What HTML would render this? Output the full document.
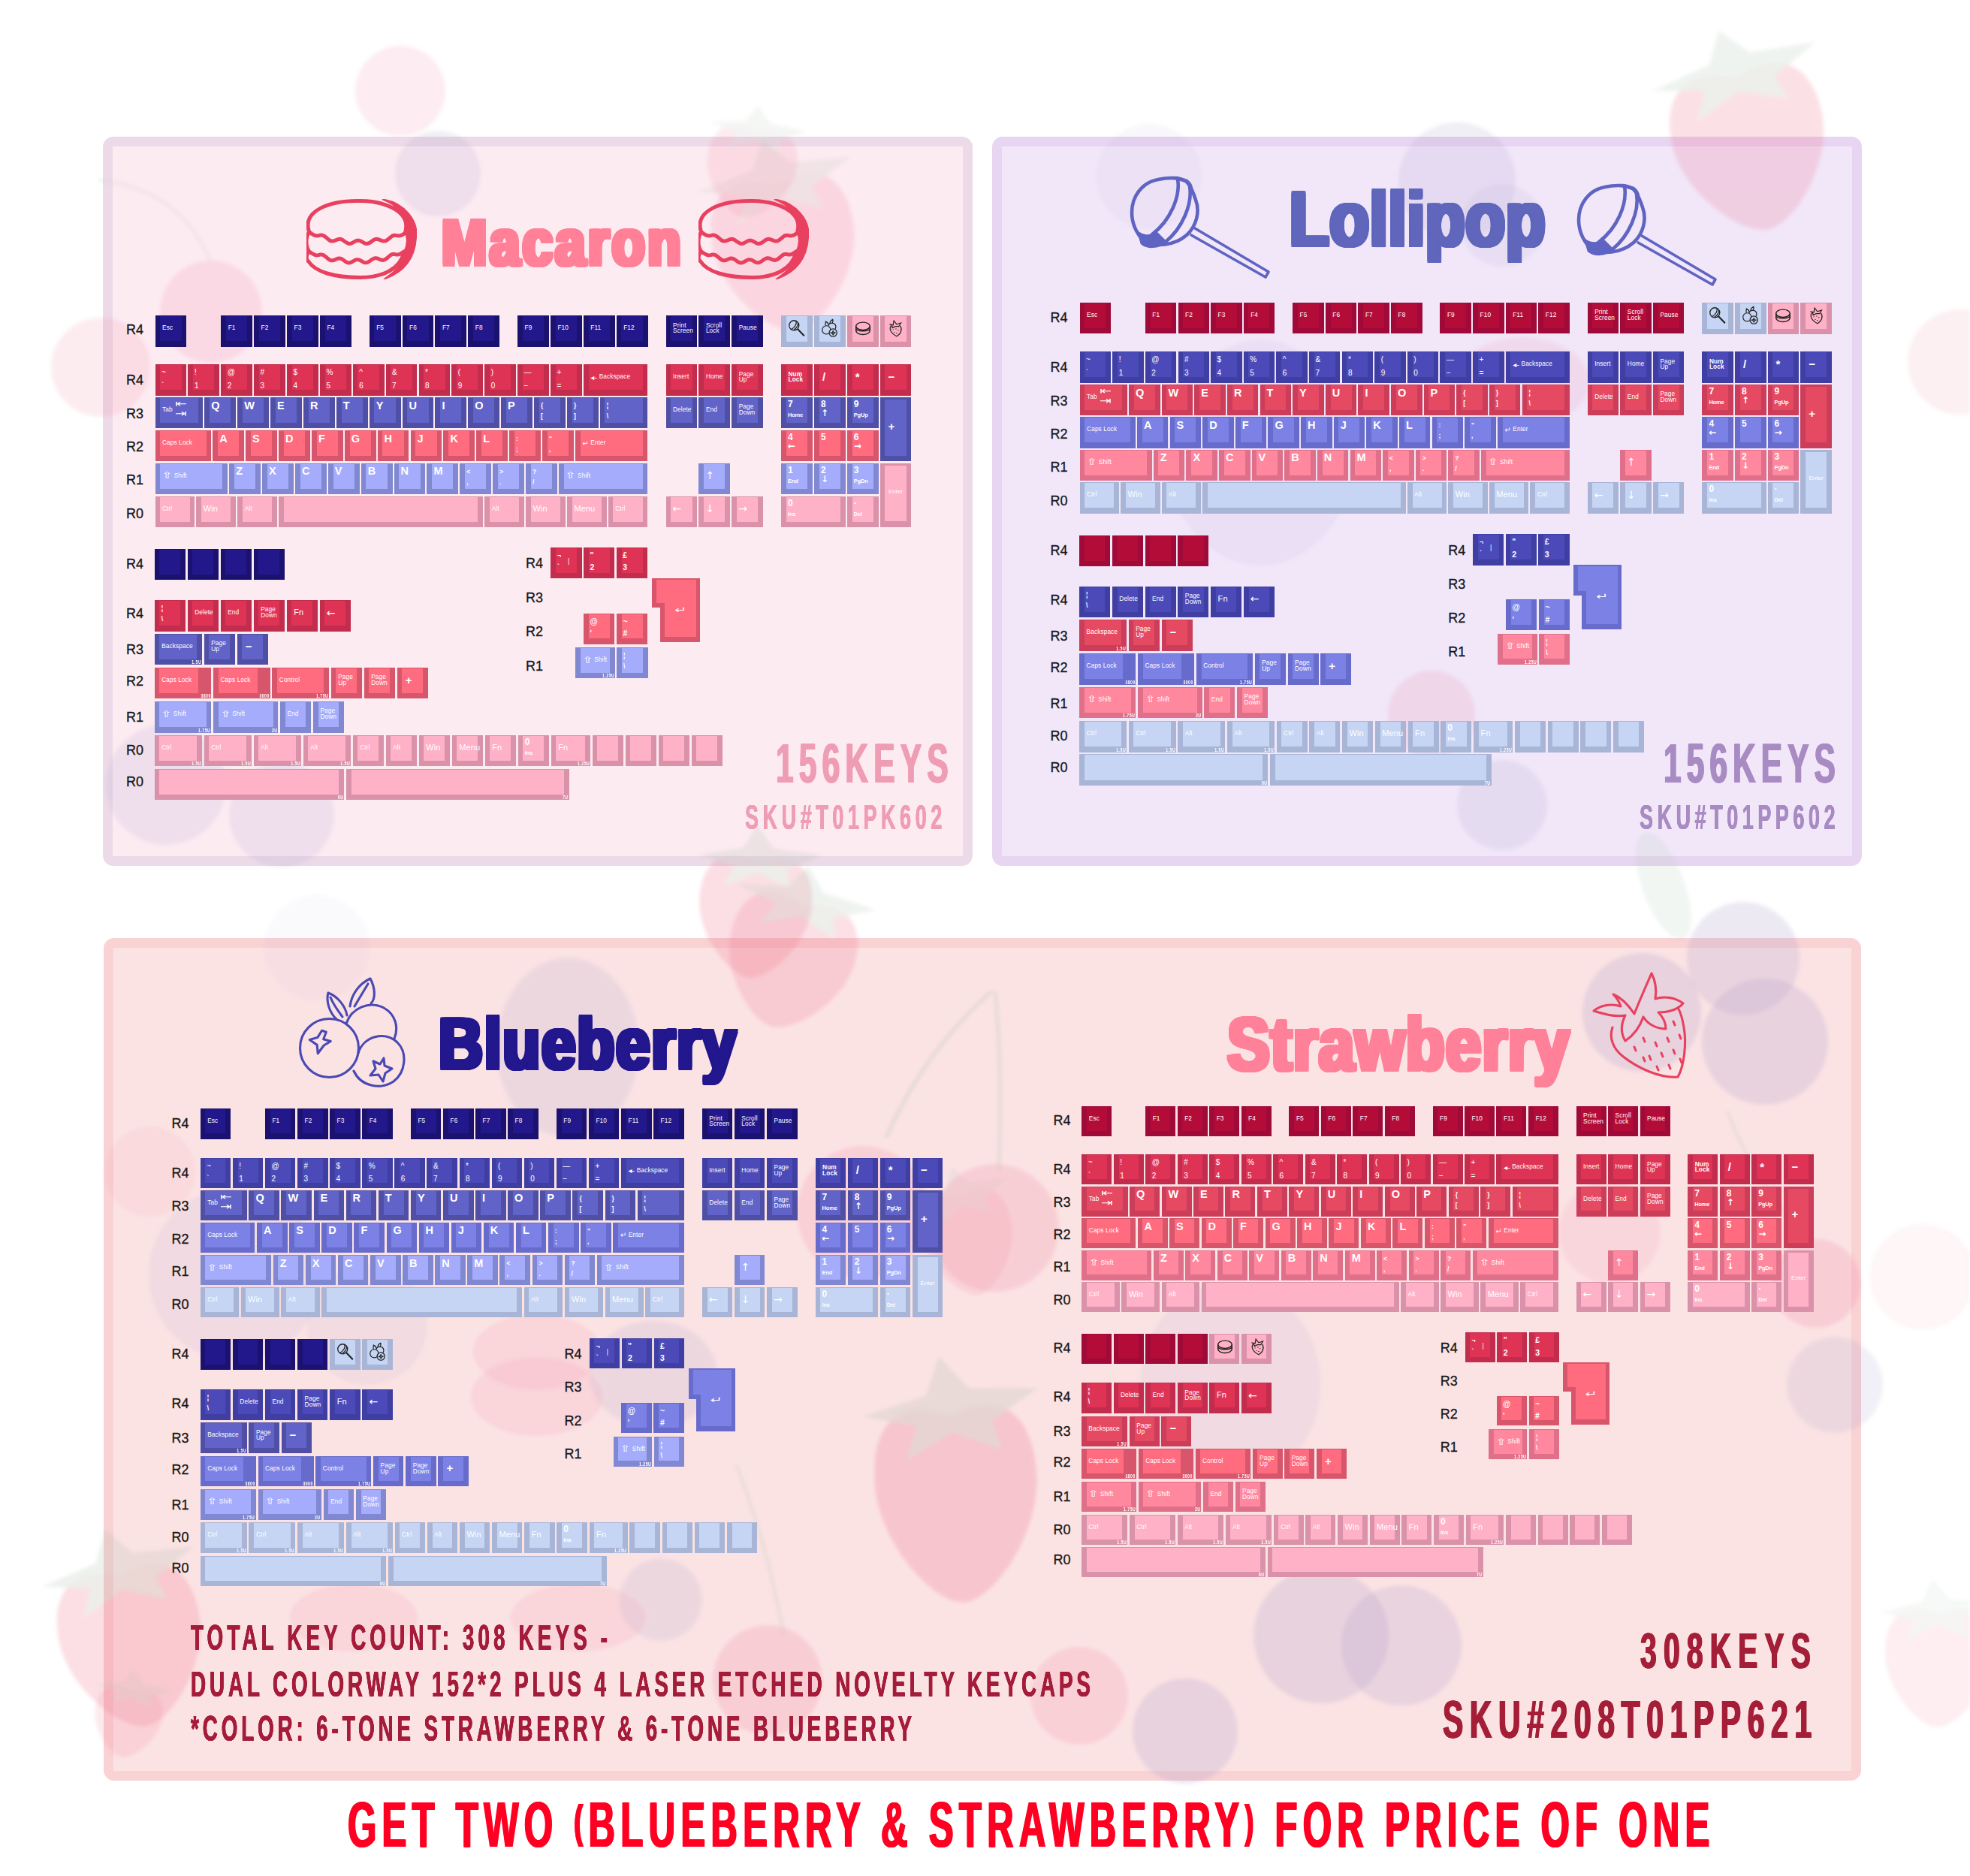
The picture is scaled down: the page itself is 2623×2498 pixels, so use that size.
<!DOCTYPE html><html><head><meta charset="utf-8"><title>Keycap sets</title><style>
html,body{margin:0;padding:0}
body{width:2623px;height:2498px;position:relative;overflow:hidden;background:#fff;font-family:"Liberation Sans","DejaVu Sans",sans-serif}
.pn{position:absolute;box-sizing:border-box;border:13.8px solid;border-radius:14px}
.k{position:absolute;background:var(--o);color:#fff;overflow:hidden}
.k>i{position:absolute;left:6.8px;right:6.8px;top:1px;bottom:7.3px;background:var(--i)}
.k.st>i{right:17px}
.k.tall>i{top:3px}
.kf{position:absolute;background:var(--i)}
.navy{--o:#1B1270;--i:#23178C}
.crim{--o:#9F0A38;--i:#B40C38}
.red{--o:#C22C4D;--i:#DF3355}
.red2{--o:#CB3D58;--i:#E64962}
.indigo{--o:#3F3FA3;--i:#4B4AB8}
.bp{--o:#4F50A5;--i:#6163C8}
.pr{--o:#D8566B;--i:#FF6B7F}
.peri{--o:#8088D2;--i:#A4ACFB}
.peri2{--o:#676BCB;--i:#7C81E5}
.pink{--o:#E0708A;--i:#FF889F}
.lpink{--o:#D992A9;--i:#FFB1C8}
.lblue{--o:#A8B5D6;--i:#C5D5F3}

.a{position:absolute;left:9px;top:3.5px;font:bold 14.5px/1 "Liberation Sans",sans-serif}
.n{position:absolute;left:8.5px;top:2px;font:10px/17.5px "Liberation Sans","DejaVu Sans",sans-serif;white-space:nowrap}
.sm .n{font-size:8.5px;line-height:14px;top:4px;left:9px;font-weight:bold}
.nbd .n{font-weight:bold;font-size:10.5px;line-height:16.5px;top:2px}
.i1 .n:after{content:"|";position:absolute;left:14px;top:7px;font-weight:normal}
.m{position:absolute;left:9.5px;top:0;height:34px;display:flex;align-items:center;font:8.3px/7.8px "Liberation Sans","DejaVu Sans",sans-serif;white-space:nowrap;letter-spacing:.1px}
.nb .m{font-weight:bold}
.m.w{font-size:11px}
.sy{font-family:"DejaVu Sans",sans-serif;font-size:10px;margin-right:2.5px;line-height:7px}
.sy.s2{font-size:12px;margin-right:3.5px;margin-left:2px;display:inline-block;transform:scaleX(1.5)}
.tb{position:absolute;left:26px;top:2px;font:13px/13px "DejaVu Sans",sans-serif;transform:scaleX(1.45);transform-origin:left top}
.p{position:absolute;left:9px;top:3px;font:bold 12px/13px "Liberation Sans","DejaVu Sans",sans-serif}
.p em{font-style:normal;font-size:7.5px;letter-spacing:-.2px}
.p em.pa{font:bold 12px/10px "DejaVu Sans",sans-serif;position:relative;top:-1px}
.c{position:absolute;left:11px;right:0;top:0;bottom:8px;display:flex;align-items:center;justify-content:flex-start;font:bold 15px/1 "Liberation Sans","DejaVu Sans",sans-serif}
.ar{position:absolute;left:9px;right:0;top:0;bottom:8px;display:flex;align-items:center;justify-content:flex-start;font:14px/1 "DejaVu Sans",sans-serif}
.ve{position:absolute;left:0;right:0;top:0;bottom:8px;display:flex;align-items:center;justify-content:center;font:8px/1 "Liberation Sans",sans-serif}
.ent{position:absolute;left:0;right:0;top:33px;text-align:center;font:13px/1 "DejaVu Sans",sans-serif;color:#fff;transform:scale(1.5,.9)}
.z{position:absolute;right:1px;bottom:0;font:bold 6.5px/7px "Liberation Sans",sans-serif;letter-spacing:.6px;transform:scaleX(.8);transform-origin:right bottom}
.ic{position:absolute;left:6.8px;top:1px;width:28px;height:33px}
.rl{position:absolute;color:#161616;line-height:1;white-space:nowrap;-webkit-text-stroke:.3px #161616}
.ct{position:absolute;white-space:nowrap;font-weight:bold;transform-origin:left top}
.ct .pr{font-size:.73em;position:relative;top:-.2em}
.tt{position:absolute;white-space:nowrap;font-weight:bold;line-height:normal;transform-origin:left top;paint-order:stroke fill}
.dc{position:absolute;border-radius:50%}
svg.ti{position:absolute;overflow:visible}
</style></head><body>
<div class=pn style="left:137px;top:181.6px;width:1158px;height:971px;border-color:#EDDAE8;background:#FDEBF2"></div>
<div class=pn style="left:1321px;top:181.6px;width:1157.5px;height:971px;border-color:#E8D5F1;background:#F1E7F9"></div>
<div class=pn style="left:138px;top:1249px;width:2339.5px;height:1122px;border-color:#F9D2D4;background:#FBE3E4"></div>
<svg style="position:absolute;left:0;top:0;opacity:.72;filter:blur(2.5px)" width="2623" height="2498" viewBox="0 0 2623 2498"><circle cx="533" cy="121" r="60" fill="#F08AA4" opacity="0.22"/><circle cx="583" cy="231" r="57" fill="#A294C6" opacity="0.22"/><circle cx="281" cy="415" r="68" fill="#EE7B98" opacity="0.22"/><circle cx="134" cy="489" r="66" fill="#EE7B98" opacity="0.20"/><path d="M281 350 Q240 250 130 240" fill="none" stroke="#B9C9B5" stroke-width="4" opacity="0.30"/><g opacity="0.22" transform="rotate(-8 1045 330)"><path d="M1045 244 C1102 222 1140 244 1140 312 C1140 375 1079 442 1045 442 C1011 442 950 375 950 312 C950 244 988 222 1045 244 Z" fill="#EE6A86"/><path d="M940 240 L1016 222 L1036 182 L1068 218 L1150 222 L1092 254 L1102 285 L1045 262 L988 290 L1003 254 Z" fill="#9DB8A0" opacity=".8"/></g><circle cx="221" cy="1045" r="80" fill="#A294C6" opacity="0.20"/><circle cx="375" cy="1085" r="70" fill="#A294C6" opacity="0.20"/><g opacity="0.30" transform="rotate(5 1005 1215)"><path d="M1005 1148 C1050 1131 1080 1148 1080 1201 C1080 1250 1032 1302 1005 1302 C978 1302 930 1250 930 1201 C930 1148 960 1131 1005 1148 Z" fill="#EE6A86"/><path d="M922 1145 L982 1131 L998 1100 L1023 1128 L1088 1131 L1042 1156 L1050 1180 L1005 1162 L960 1184 L972 1156 Z" fill="#9DB8A0" opacity=".8"/></g><g opacity="0.18" transform="rotate(10 1000 225)"><path d="M1000 176 C1036 163 1060 176 1060 215 C1060 251 1022 290 1000 290 C978 290 940 251 940 215 C940 176 964 163 1000 176 Z" fill="#EE6A86"/><path d="M934 173 L982 163 L994 139 L1014 160 L1066 163 L1030 181 L1036 199 L1000 186 L964 202 L974 181 Z" fill="#9DB8A0" opacity=".8"/></g><g opacity="0.28" transform="rotate(-12 2330 190)"><path d="M2330 101 C2392 77 2432 101 2432 171 C2432 237 2367 308 2330 308 C2293 308 2228 237 2228 171 C2228 101 2268 77 2330 101 Z" fill="#EE6A86"/><path d="M2217 96 L2299 77 L2320 35 L2355 72 L2443 77 L2381 110 L2392 143 L2330 120 L2268 148 L2285 110 Z" fill="#9DB8A0" opacity=".8"/></g><circle cx="1940" cy="241" r="78" fill="#A294C6" opacity="0.22"/><circle cx="2000" cy="300" r="55" fill="#A294C6" opacity="0.15"/><ellipse cx="1678" cy="603" rx="125" ry="150" fill="#A294C6" opacity="0.13" transform="rotate(0 1678 603)"/><ellipse cx="2027" cy="509" rx="90" ry="60" fill="#F08AA4" opacity="0.20" transform="rotate(0 2027 509)"/><circle cx="1906" cy="951" r="58" fill="#EE7B98" opacity="0.22"/><circle cx="2000" cy="1072" r="60" fill="#A294C6" opacity="0.20"/><circle cx="2610" cy="482" r="70" fill="#EE7B98" opacity="0.16"/><circle cx="1530" cy="235" r="70" fill="#A294C6" opacity="0.10"/><ellipse cx="2215" cy="1180" rx="28" ry="75" fill="#A9C9B0" opacity="0.22" transform="rotate(-20 2215 1180)"/><g opacity="0.28" transform="rotate(15 1052 1275)"><path d="M1052 1203 C1103 1184 1137 1203 1137 1260 C1137 1313 1083 1370 1052 1370 C1021 1370 967 1313 967 1260 C967 1203 1001 1184 1052 1203 Z" fill="#EE6A86"/><path d="M958 1199 L1026 1184 L1044 1150 L1072 1180 L1146 1184 L1094 1210 L1103 1237 L1052 1218 L1001 1241 L1015 1210 Z" fill="#9DB8A0" opacity=".8"/></g><g opacity="0.34" transform="rotate(-4 1274 1992)"><path d="M1274 1884 C1338 1856 1382 1884 1382 1969 C1382 2049 1313 2134 1274 2134 C1235 2134 1166 2049 1166 1969 C1166 1884 1210 1856 1274 1884 Z" fill="#EE6A86"/><path d="M1156 1878 L1242 1856 L1263 1805 L1300 1850 L1392 1856 L1328 1895 L1338 1935 L1274 1907 L1210 1941 L1227 1895 Z" fill="#9DB8A0" opacity=".8"/></g><g opacity="0.20" transform="rotate(-10 1290 1650)"><path d="M1290 1593 C1326 1578 1350 1593 1350 1638 C1350 1680 1312 1725 1290 1725 C1268 1725 1230 1680 1230 1638 C1230 1593 1254 1578 1290 1593 Z" fill="#EE6A86"/><path d="M1224 1590 L1272 1578 L1284 1551 L1304 1575 L1356 1578 L1320 1599 L1326 1620 L1290 1605 L1254 1623 L1264 1599 Z" fill="#9DB8A0" opacity=".8"/></g><circle cx="1149" cy="1614" r="88" fill="#EE7B98" opacity="0.26"/><circle cx="1022" cy="2237" r="73" fill="#EE7B98" opacity="0.28"/><path d="M1180 1515 Q1230 1400 1320 1320" fill="none" stroke="#B9C9B5" stroke-width="5" opacity="0.50"/><path d="M1044 2180 Q1020 2050 980 1950" fill="none" stroke="#B9C9B5" stroke-width="4" opacity="0.40"/><ellipse cx="756" cy="1395" rx="95" ry="120" fill="#A294C6" opacity="0.20" transform="rotate(0 756 1395)"/><ellipse cx="715" cy="1800" rx="85" ry="50" fill="#F08AA4" opacity="0.22" transform="rotate(0 715 1800)"/><ellipse cx="715" cy="1860" rx="88" ry="52" fill="#F08AA4" opacity="0.22" transform="rotate(0 715 1860)"/><ellipse cx="870" cy="1830" rx="85" ry="72" fill="#A294C6" opacity="0.20" transform="rotate(0 870 1830)"/><circle cx="313" cy="1697" r="115" fill="#A294C6" opacity="0.16"/><circle cx="489" cy="1764" r="80" fill="#A294C6" opacity="0.14"/><circle cx="422" cy="1262" r="70" fill="#A294C6" opacity="0.07"/><g opacity="0.30" transform="rotate(-10 175 2185)"><path d="M175 2098 C232 2075 270 2098 270 2167 C270 2231 209 2300 175 2300 C141 2300 80 2231 80 2167 C80 2098 118 2075 175 2098 Z" fill="#EE6A86"/><path d="M70 2093 L146 2075 L166 2033 L198 2070 L280 2075 L222 2107 L232 2139 L175 2116 L118 2144 L133 2107 Z" fill="#9DB8A0" opacity=".8"/></g><g opacity="0.20" transform="rotate(10 170 2290)"><path d="M170 2252 C197 2242 215 2252 215 2282 C215 2310 186 2340 170 2340 C154 2340 125 2310 125 2282 C125 2252 143 2242 170 2252 Z" fill="#EE6A86"/><path d="M120 2250 L156 2242 L166 2224 L181 2240 L220 2242 L192 2256 L197 2270 L170 2260 L143 2272 L150 2256 Z" fill="#9DB8A0" opacity=".8"/></g><ellipse cx="471" cy="2154" rx="85" ry="45" fill="#F08AA4" opacity="0.22" transform="rotate(0 471 2154)"/><ellipse cx="770" cy="2154" rx="90" ry="45" fill="#F08AA4" opacity="0.22" transform="rotate(0 770 2154)"/><circle cx="880" cy="2130" r="55" fill="#A294C6" opacity="0.20"/><circle cx="200" cy="1560" r="60" fill="#EE7B98" opacity="0.12"/><circle cx="2186" cy="1348" r="79" fill="#A294C6" opacity="0.30"/><circle cx="2321" cy="1276" r="75" fill="#A294C6" opacity="0.28"/><circle cx="2350" cy="1387" r="84" fill="#A294C6" opacity="0.30"/><circle cx="2418" cy="1709" r="59" fill="#EE7B98" opacity="0.28"/><circle cx="2143" cy="1641" r="68" fill="#EE7B98" opacity="0.17"/><circle cx="2443" cy="1844" r="64" fill="#A294C6" opacity="0.20"/><circle cx="1325" cy="1635" r="85" fill="#EE7B98" opacity="0.27"/><ellipse cx="1638" cy="1843" rx="120" ry="135" fill="#A294C6" opacity="0.16" transform="rotate(0 1638 1843)"/><circle cx="1759" cy="2178" r="90" fill="#A294C6" opacity="0.30"/><circle cx="1866" cy="2191" r="80" fill="#A294C6" opacity="0.28"/><circle cx="1437" cy="2258" r="65" fill="#EE7B98" opacity="0.25"/><circle cx="1578" cy="2305" r="70" fill="#A294C6" opacity="0.30"/><g opacity="0.16" transform="rotate(0 2580 2215)"><path d="M2580 2150 C2622 2133 2650 2150 2650 2201 C2650 2249 2605 2300 2580 2300 C2555 2300 2510 2249 2510 2201 C2510 2150 2538 2133 2580 2150 Z" fill="#EE6A86"/><path d="M2503 2147 L2559 2133 L2573 2103 L2597 2130 L2657 2133 L2615 2157 L2622 2181 L2580 2164 L2538 2184 L2549 2157 Z" fill="#9DB8A0" opacity=".8"/></g><path d="M2402 1650 Q2330 1560 2300 1480" fill="none" stroke="#B9C9B5" stroke-width="4" opacity="0.40"/><path d="M1330 1560 Q1335 1420 1325 1320" fill="none" stroke="#B9C9B5" stroke-width="5" opacity="0.45"/><circle cx="2560" cy="1700" r="70" fill="#EE7B98" opacity="0.10"/></svg>
<span class=rl style="left:168px;top:430.3px;font-size:18px">R4</span>
<span class=rl style="left:168px;top:497.3px;font-size:18px">R4</span>
<span class=rl style="left:168px;top:541.8px;font-size:18px">R3</span>
<span class=rl style="left:168px;top:586.3px;font-size:18px">R2</span>
<span class=rl style="left:168px;top:630.4px;font-size:18px">R1</span>
<span class=rl style="left:168px;top:675.2px;font-size:18px">R0</span>
<div class="k navy" style="left:206.5px;top:420.3px;width:41.9px;height:41.3px"><i></i><span class=m>Esc</span></div>
<div class="k navy" style="left:294.2px;top:420.3px;width:41.9px;height:41.3px"><i></i><span class=m>F1</span></div>
<div class="k navy" style="left:338.1px;top:420.3px;width:41.9px;height:41.3px"><i></i><span class=m>F2</span></div>
<div class="k navy" style="left:382px;top:420.3px;width:41.9px;height:41.3px"><i></i><span class=m>F3</span></div>
<div class="k navy" style="left:425.9px;top:420.3px;width:41.9px;height:41.3px"><i></i><span class=m>F4</span></div>
<div class="k navy" style="left:491.7px;top:420.3px;width:41.9px;height:41.3px"><i></i><span class=m>F5</span></div>
<div class="k navy" style="left:535.5px;top:420.3px;width:41.9px;height:41.3px"><i></i><span class=m>F6</span></div>
<div class="k navy" style="left:579.4px;top:420.3px;width:41.9px;height:41.3px"><i></i><span class=m>F7</span></div>
<div class="k navy" style="left:623.3px;top:420.3px;width:41.9px;height:41.3px"><i></i><span class=m>F8</span></div>
<div class="k navy" style="left:689.1px;top:420.3px;width:41.9px;height:41.3px"><i></i><span class=m>F9</span></div>
<div class="k navy" style="left:732.9px;top:420.3px;width:41.9px;height:41.3px"><i></i><span class=m>F10</span></div>
<div class="k navy" style="left:776.8px;top:420.3px;width:41.9px;height:41.3px"><i></i><span class=m>F11</span></div>
<div class="k navy" style="left:820.7px;top:420.3px;width:41.9px;height:41.3px"><i></i><span class=m>F12</span></div>
<div class="k navy" style="left:886.5px;top:420.3px;width:41.9px;height:41.3px"><i></i><span class=m>Print<br>Screen</span></div>
<div class="k navy" style="left:930.4px;top:420.3px;width:41.9px;height:41.3px"><i></i><span class=m>Scroll<br>Lock</span></div>
<div class="k navy" style="left:974.2px;top:420.3px;width:41.9px;height:41.3px"><i></i><span class=m>Pause</span></div>
<div class="k lblue" style="left:1040px;top:420.3px;width:41.9px;height:42.1px"><i></i><svg class=ic viewBox="0 0 30 30"><g fill="none" stroke="#222" stroke-width="1.4"><circle cx="11" cy="10.5" r="7"/><path d="M13.5 4c2 3.5-1 9-6 12M16.5 6.5c1 3.5-2 8-6 10.5"/><path d="M16 15.5l9.5 10" stroke-width="2.2"/></g></svg></div>
<div class="k lblue" style="left:1083.9px;top:420.3px;width:41.9px;height:42.1px"><i></i><svg class=ic viewBox="0 0 30 30"><g fill="none" stroke="#222" stroke-width="1.3"><circle cx="18" cy="12.5" r="5.5"/><circle cx="10" cy="17" r="6" fill="var(--i)"/><circle cx="19.5" cy="21" r="5.5" fill="var(--i)"/><path d="M9 11c-1-3 0-5 0-6 2 1 4 3 4 5M15 8c0-3 2-5 4-6 1 2 0 4-1 6"/><path d="M19.5 18.5l1 2 2 .5-2 1-1 2-1-2-2-1 2-.5z"/></g></svg></div>
<div class="k lpink" style="left:1127.8px;top:420.3px;width:41.9px;height:42.1px"><i></i><svg class=ic viewBox="0 0 30 30"><g fill="none" stroke="#222" stroke-width="1.5"><ellipse cx="15" cy="11.5" rx="10" ry="5.5"/><path d="M5 14.5c0 3 5 4 10 4s10-1 10-4M5 17.5c0 4 5 6 10 6s10-2 10-6M5 11.5v6M25 11.5v6"/></g></svg></div>
<div class="k lpink" style="left:1171.6px;top:420.3px;width:41.9px;height:42.1px"><i></i><svg class=ic viewBox="0 0 30 30"><g fill="none" stroke="#222" stroke-width="1.3"><path d="M9 11c-3 4-1 10 8 15 7-4 8-11 5-15"/><path d="M7 9l5 1 1-6 4 5 6-2-3 5-5 0-4 2-1-4z"/><path d="M12 16v1M16 15v1M19 17v1M14 20v1M17 21v1" stroke-width="1.6"/></g></svg></div>
<div class="k red" style="left:206.5px;top:485.3px;width:41.9px;height:41.3px"><i></i><span class=n>~<br>`</span></div>
<div class="k red" style="left:250.4px;top:485.3px;width:41.9px;height:41.3px"><i></i><span class=n>!<br>1</span></div>
<div class="k red" style="left:294.2px;top:485.3px;width:41.9px;height:41.3px"><i></i><span class=n>@<br>2</span></div>
<div class="k red" style="left:338.1px;top:485.3px;width:41.9px;height:41.3px"><i></i><span class=n>#<br>3</span></div>
<div class="k red" style="left:382px;top:485.3px;width:41.9px;height:41.3px"><i></i><span class=n>$<br>4</span></div>
<div class="k red" style="left:425.9px;top:485.3px;width:41.9px;height:41.3px"><i></i><span class=n>%<br>5</span></div>
<div class="k red" style="left:469.7px;top:485.3px;width:41.9px;height:41.3px"><i></i><span class=n>^<br>6</span></div>
<div class="k red" style="left:513.6px;top:485.3px;width:41.9px;height:41.3px"><i></i><span class=n>&amp;<br>7</span></div>
<div class="k red" style="left:557.5px;top:485.3px;width:41.9px;height:41.3px"><i></i><span class=n>*<br>8</span></div>
<div class="k red" style="left:601.3px;top:485.3px;width:41.9px;height:41.3px"><i></i><span class=n>(<br>9</span></div>
<div class="k red" style="left:645.2px;top:485.3px;width:41.9px;height:41.3px"><i></i><span class=n>)<br>0</span></div>
<div class="k red" style="left:689.1px;top:485.3px;width:41.9px;height:41.3px"><i></i><span class=n>—<br>−</span></div>
<div class="k red" style="left:732.9px;top:485.3px;width:41.9px;height:41.3px"><i></i><span class=n>+<br>=</span></div>
<div class="k red" style="left:776.8px;top:485.3px;width:85.7px;height:41.3px"><i></i><span class=m><span class=sy>&#9666;-</span> Backspace</span></div>
<div class="k red" style="left:886.5px;top:485.3px;width:41.9px;height:41.3px"><i></i><span class=m>Insert</span></div>
<div class="k red" style="left:930.4px;top:485.3px;width:41.9px;height:41.3px"><i></i><span class=m>Home</span></div>
<div class="k red" style="left:974.2px;top:485.3px;width:41.9px;height:41.3px"><i></i><span class=m>Page<br>Up</span></div>
<div class="k red nb" style="left:1040px;top:485.3px;width:41.9px;height:41.3px"><i></i><span class=m>Num<br>Lock</span></div>
<div class="k red lc" style="left:1083.9px;top:485.3px;width:41.9px;height:41.3px"><i></i><b class=c>/</b></div>
<div class="k red lc" style="left:1127.8px;top:485.3px;width:41.9px;height:41.3px"><i></i><b class=c>*</b></div>
<div class="k red lc" style="left:1171.6px;top:485.3px;width:41.9px;height:41.3px"><i></i><b class=c>−</b></div>
<div class="k bp" style="left:206.5px;top:529.1px;width:63.8px;height:41.3px"><i></i><span class=m>Tab</span><span class=tb>&#8676;<br>&#8677;</span></div>
<div class="k bp" style="left:272.3px;top:529.1px;width:41.9px;height:41.3px"><i></i><b class=a>Q</b></div>
<div class="k bp" style="left:316.2px;top:529.1px;width:41.9px;height:41.3px"><i></i><b class=a>W</b></div>
<div class="k bp" style="left:360px;top:529.1px;width:41.9px;height:41.3px"><i></i><b class=a>E</b></div>
<div class="k bp" style="left:403.9px;top:529.1px;width:41.9px;height:41.3px"><i></i><b class=a>R</b></div>
<div class="k bp" style="left:447.8px;top:529.1px;width:41.9px;height:41.3px"><i></i><b class=a>T</b></div>
<div class="k bp" style="left:491.7px;top:529.1px;width:41.9px;height:41.3px"><i></i><b class=a>Y</b></div>
<div class="k bp" style="left:535.5px;top:529.1px;width:41.9px;height:41.3px"><i></i><b class=a>U</b></div>
<div class="k bp" style="left:579.4px;top:529.1px;width:41.9px;height:41.3px"><i></i><b class=a>I</b></div>
<div class="k bp" style="left:623.3px;top:529.1px;width:41.9px;height:41.3px"><i></i><b class=a>O</b></div>
<div class="k bp" style="left:667.1px;top:529.1px;width:41.9px;height:41.3px"><i></i><b class=a>P</b></div>
<div class="k bp sm" style="left:711px;top:529.1px;width:41.9px;height:41.3px"><i></i><span class=n>{<br>[</span></div>
<div class="k bp sm" style="left:754.9px;top:529.1px;width:41.9px;height:41.3px"><i></i><span class=n>}<br>]</span></div>
<div class="k bp sm" style="left:798.7px;top:529.1px;width:63.8px;height:41.3px"><i></i><span class=n>¦<br>\</span></div>
<div class="k bp" style="left:886.5px;top:529.1px;width:41.9px;height:41.3px"><i></i><span class=m>Delete</span></div>
<div class="k bp" style="left:930.4px;top:529.1px;width:41.9px;height:41.3px"><i></i><span class=m>End</span></div>
<div class="k bp" style="left:974.2px;top:529.1px;width:41.9px;height:41.3px"><i></i><span class=m>Page<br>Down</span></div>
<div class="k bp" style="left:1040px;top:529.1px;width:41.9px;height:41.3px"><i></i><b class=p>7<br><em>Home</em></b></div>
<div class="k bp" style="left:1083.9px;top:529.1px;width:41.9px;height:41.3px"><i></i><b class=p>8<br><em class=pa>↑</em></b></div>
<div class="k bp" style="left:1127.8px;top:529.1px;width:41.9px;height:41.3px"><i></i><b class=p>9<br><em>PgUp</em></b></div>
<div class="k bp tall" style="left:1171.6px;top:529.1px;width:41.9px;height:85.2px"><i></i><b class=c>+</b></div>
<div class="k pr" style="left:206.5px;top:573px;width:74.8px;height:41.3px"><i></i><span class=m>Caps Lock</span></div>
<div class="k pr" style="left:283.3px;top:573px;width:41.9px;height:41.3px"><i></i><b class=a>A</b></div>
<div class="k pr" style="left:327.1px;top:573px;width:41.9px;height:41.3px"><i></i><b class=a>S</b></div>
<div class="k pr" style="left:371px;top:573px;width:41.9px;height:41.3px"><i></i><b class=a>D</b></div>
<div class="k pr" style="left:414.9px;top:573px;width:41.9px;height:41.3px"><i></i><b class=a>F</b></div>
<div class="k pr" style="left:458.8px;top:573px;width:41.9px;height:41.3px"><i></i><b class=a>G</b></div>
<div class="k pr" style="left:502.6px;top:573px;width:41.9px;height:41.3px"><i></i><b class=a>H</b></div>
<div class="k pr" style="left:546.5px;top:573px;width:41.9px;height:41.3px"><i></i><b class=a>J</b></div>
<div class="k pr" style="left:590.4px;top:573px;width:41.9px;height:41.3px"><i></i><b class=a>K</b></div>
<div class="k pr" style="left:634.2px;top:573px;width:41.9px;height:41.3px"><i></i><b class=a>L</b></div>
<div class="k pr sm" style="left:678.1px;top:573px;width:41.9px;height:41.3px"><i></i><span class=n>:<br>;</span></div>
<div class="k pr sm" style="left:722px;top:573px;width:41.9px;height:41.3px"><i></i><span class=n>"<br>,</span></div>
<div class="k pr" style="left:765.8px;top:573px;width:96.7px;height:41.3px"><i></i><span class=m><span class=sy>&#8629;</span> Enter</span></div>
<div class="k pr" style="left:1040px;top:573px;width:41.9px;height:41.3px"><i></i><b class=p>4<br><em class=pa>←</em></b></div>
<div class="k pr" style="left:1083.9px;top:573px;width:41.9px;height:41.3px"><i></i><b class=p>5<br><em></em></b></div>
<div class="k pr" style="left:1127.8px;top:573px;width:41.9px;height:41.3px"><i></i><b class=p>6<br><em class=pa>→</em></b></div>
<div class="k peri" style="left:206.5px;top:616.7px;width:96.7px;height:41.3px"><i></i><span class=m><span class="sy s2">&#8679;</span> Shift</span></div>
<div class="k peri" style="left:305.2px;top:616.7px;width:41.9px;height:41.3px"><i></i><b class=a>Z</b></div>
<div class="k peri" style="left:349.1px;top:616.7px;width:41.9px;height:41.3px"><i></i><b class=a>X</b></div>
<div class="k peri" style="left:392.9px;top:616.7px;width:41.9px;height:41.3px"><i></i><b class=a>C</b></div>
<div class="k peri" style="left:436.8px;top:616.7px;width:41.9px;height:41.3px"><i></i><b class=a>V</b></div>
<div class="k peri" style="left:480.7px;top:616.7px;width:41.9px;height:41.3px"><i></i><b class=a>B</b></div>
<div class="k peri" style="left:524.6px;top:616.7px;width:41.9px;height:41.3px"><i></i><b class=a>N</b></div>
<div class="k peri" style="left:568.4px;top:616.7px;width:41.9px;height:41.3px"><i></i><b class=a>M</b></div>
<div class="k peri sm" style="left:612.3px;top:616.7px;width:41.9px;height:41.3px"><i></i><span class=n>&lt;<br>,</span></div>
<div class="k peri sm" style="left:656.2px;top:616.7px;width:41.9px;height:41.3px"><i></i><span class=n>&gt;<br>.</span></div>
<div class="k peri sm" style="left:700px;top:616.7px;width:41.9px;height:41.3px"><i></i><span class=n>?<br>/</span></div>
<div class="k peri" style="left:743.9px;top:616.7px;width:118.6px;height:41.3px"><i></i><span class=m><span class="sy s2">&#8679;</span> Shift</span></div>
<div class="k peri" style="left:930.4px;top:616.7px;width:41.9px;height:41.3px"><i></i><b class=ar>↑</b></div>
<div class="k peri" style="left:1040px;top:616.7px;width:41.9px;height:41.3px"><i></i><b class=p>1<br><em>End</em></b></div>
<div class="k peri" style="left:1083.9px;top:616.7px;width:41.9px;height:41.3px"><i></i><b class=p>2<br><em class=pa>↓</em></b></div>
<div class="k peri" style="left:1127.8px;top:616.7px;width:41.9px;height:41.3px"><i></i><b class=p>3<br><em>PgDn</em></b></div>
<div class="k lpink tall" style="left:1171.6px;top:616.7px;width:41.9px;height:85.1px"><i></i><span class=ve>Enter</span></div>
<div class="k lpink" style="left:206.5px;top:660.5px;width:52.8px;height:41.3px"><i></i><span class=m>Ctrl</span></div>
<div class="k lpink" style="left:261.3px;top:660.5px;width:52.8px;height:41.3px"><i></i><span class="m w">Win</span></div>
<div class="k lpink" style="left:316.2px;top:660.5px;width:52.8px;height:41.3px"><i></i><span class=m>Alt</span></div>
<div class="k lpink" style="left:371px;top:660.5px;width:272.2px;height:41.3px"><i></i></div>
<div class="k lpink" style="left:645.2px;top:660.5px;width:52.8px;height:41.3px"><i></i><span class=m>Alt</span></div>
<div class="k lpink" style="left:700px;top:660.5px;width:52.8px;height:41.3px"><i></i><span class="m w">Win</span></div>
<div class="k lpink" style="left:754.9px;top:660.5px;width:52.8px;height:41.3px"><i></i><span class="m w">Menu</span></div>
<div class="k lpink" style="left:809.7px;top:660.5px;width:52.8px;height:41.3px"><i></i><span class=m>Ctrl</span></div>
<div class="k lpink" style="left:886.5px;top:660.5px;width:41.9px;height:41.3px"><i></i><b class=ar>←</b></div>
<div class="k lpink" style="left:930.4px;top:660.5px;width:41.9px;height:41.3px"><i></i><b class=ar>↓</b></div>
<div class="k lpink" style="left:974.2px;top:660.5px;width:41.9px;height:41.3px"><i></i><b class=ar>→</b></div>
<div class="k lpink" style="left:1040px;top:660.5px;width:85.7px;height:41.3px"><i></i><b class=p>0<br><em>Ins</em></b></div>
<div class="k lpink" style="left:1127.8px;top:660.5px;width:41.9px;height:41.3px"><i></i><b class=p>·<br><em>Del</em></b></div>
<span class=rl style="left:168px;top:741.5px;font-size:18px">R4</span>
<span class=rl style="left:168px;top:808.3px;font-size:18px">R4</span>
<span class=rl style="left:168px;top:855.9px;font-size:18px">R3</span>
<span class=rl style="left:168px;top:898.3px;font-size:18px">R2</span>
<span class=rl style="left:168px;top:945.9px;font-size:18px">R1</span>
<span class=rl style="left:168px;top:990.4px;font-size:18px">R0</span>
<span class=rl style="left:168px;top:1032.3px;font-size:18px">R0</span>
<div class="k navy" style="left:205.7px;top:730.6px;width:41.4px;height:41.5px"><i></i></div>
<div class="k navy" style="left:249.7px;top:730.6px;width:41.4px;height:41.5px"><i></i></div>
<div class="k navy" style="left:293.7px;top:730.6px;width:41.4px;height:41.5px"><i></i></div>
<div class="k navy" style="left:337.7px;top:730.6px;width:41.4px;height:41.5px"><i></i></div>
<div class="k red sm" style="left:205.7px;top:799.1px;width:41.4px;height:41.5px"><i></i><span class=n>¦<br>\</span></div>
<div class="k red" style="left:249.7px;top:799.1px;width:41.4px;height:41.5px"><i></i><span class=m>Delete</span></div>
<div class="k red" style="left:293.7px;top:799.1px;width:41.4px;height:41.5px"><i></i><span class=m>End</span></div>
<div class="k red" style="left:337.7px;top:799.1px;width:41.4px;height:41.5px"><i></i><span class=m>Page<br>Down</span></div>
<div class="k red" style="left:381.7px;top:799.1px;width:41.4px;height:41.5px"><i></i><span class="m w">Fn</span></div>
<div class="k red" style="left:425.7px;top:799.1px;width:41.4px;height:41.5px"><i></i><b class=ar>←</b></div>
<div class="k bp" style="left:205.7px;top:843.6px;width:63.4px;height:41.5px"><i></i><span class=m>Backspace</span><span class=z>1.5U</span></div>
<div class="k bp" style="left:271.7px;top:843.6px;width:41.4px;height:41.5px"><i></i><span class=m>Page<br>Up</span></div>
<div class="k bp lc" style="left:315.7px;top:843.6px;width:41.4px;height:41.5px"><i></i><b class=c>−</b></div>
<div class="k pr st" style="left:205.7px;top:888.6px;width:75.7px;height:41.5px"><i></i><span class=m>Caps Lock</span><span class=z>3800</span></div>
<div class="k pr st" style="left:284px;top:888.6px;width:75.7px;height:41.5px"><i></i><span class=m>Caps Lock</span><span class=z>3000</span></div>
<div class="k pr" style="left:362.3px;top:888.6px;width:75.7px;height:41.5px"><i></i><span class=m>Control</span><span class=z>1.75U</span></div>
<div class="k pr" style="left:440.7px;top:888.6px;width:41.4px;height:41.5px"><i></i><span class=m>Page<br>Up</span></div>
<div class="k pr" style="left:484.7px;top:888.6px;width:41.4px;height:41.5px"><i></i><span class=m>Page<br>Down</span></div>
<div class="k pr lc" style="left:528.7px;top:888.6px;width:41.4px;height:41.5px"><i></i><b class=c>+</b></div>
<div class="k peri" style="left:205.7px;top:934px;width:75.7px;height:41.5px"><i></i><span class=m><span class="sy s2">&#8679;</span> Shift</span><span class=z>1.75U</span></div>
<div class="k peri" style="left:284px;top:934px;width:86.3px;height:41.5px"><i></i><span class=m><span class="sy s2">&#8679;</span> Shift</span><span class=z>2U</span></div>
<div class="k peri" style="left:372.9px;top:934px;width:41.4px;height:41.5px"><i></i><span class=m>End</span></div>
<div class="k peri" style="left:416.9px;top:934px;width:41.4px;height:41.5px"><i></i><span class=m>Page<br>Down</span></div>
<div class="k lpink" style="left:205.7px;top:978.5px;width:63.4px;height:41.5px"><i></i><span class=m>Ctrl</span><span class=z>1.5U</span></div>
<div class="k lpink" style="left:271.7px;top:978.5px;width:63.4px;height:41.5px"><i></i><span class=m>Ctrl</span><span class=z>1.5U</span></div>
<div class="k lpink" style="left:337.7px;top:978.5px;width:63.4px;height:41.5px"><i></i><span class=m>Alt</span><span class=z>1.5U</span></div>
<div class="k lpink" style="left:403.7px;top:978.5px;width:63.4px;height:41.5px"><i></i><span class=m>Alt</span><span class=z>1.5U</span></div>
<div class="k lpink" style="left:469.7px;top:978.5px;width:41.4px;height:41.5px"><i></i><span class=m>Ctrl</span></div>
<div class="k lpink" style="left:513.7px;top:978.5px;width:41.4px;height:41.5px"><i></i><span class=m>Alt</span></div>
<div class="k lpink" style="left:557.7px;top:978.5px;width:41.4px;height:41.5px"><i></i><span class="m w">Win</span></div>
<div class="k lpink" style="left:601.7px;top:978.5px;width:41.4px;height:41.5px"><i></i><span class="m w">Menu</span></div>
<div class="k lpink" style="left:645.7px;top:978.5px;width:41.4px;height:41.5px"><i></i><span class="m w">Fn</span></div>
<div class="k lpink" style="left:689.7px;top:978.5px;width:41.4px;height:41.5px"><i></i><b class=p>0<br><em>Ins</em></b></div>
<div class="k lpink" style="left:733.7px;top:978.5px;width:52.4px;height:41.5px"><i></i><span class="m w">Fn</span><span class=z>1.25U</span></div>
<div class="k lpink" style="left:788.7px;top:978.5px;width:41.4px;height:41.5px"><i></i></div>
<div class="k lpink" style="left:832.7px;top:978.5px;width:41.4px;height:41.5px"><i></i></div>
<div class="k lpink" style="left:876.7px;top:978.5px;width:41.4px;height:41.5px"><i></i></div>
<div class="k lpink" style="left:920.7px;top:978.5px;width:41.4px;height:41.5px"><i></i></div>
<div class="k lpink" style="left:205.7px;top:1023.5px;width:252.6px;height:41.5px"><i></i><span class=z>6U</span></div>
<div class="k lpink" style="left:461.2px;top:1023.5px;width:296.6px;height:41.5px"><i></i><span class=z>7U</span></div>
<div class="k red sm i1" style="left:733px;top:728.8px;width:41.6px;height:41.5px"><i></i><span class=n>¬<br>`</span></div>
<div class="k red nbd" style="left:776.9px;top:728.8px;width:41.6px;height:41.5px"><i></i><span class=n>"<br>2</span></div>
<div class="k red nbd" style="left:820.8px;top:728.8px;width:41.6px;height:41.5px"><i></i><span class=n>£<br>3</span></div>
<div class="k pr" style="left:868.3px;top:769.9px;width:64.1px;height:39.3px"></div>
<div class="k pr" style="left:879.3px;top:769.9px;width:53.1px;height:85.5px"></div>
<div class="kf pr" style="left:874.3px;top:771.9px;width:53.1px;height:31.3px"></div>
<div class="kf pr" style="left:885.3px;top:771.9px;width:42.1px;height:76.5px"><b class=ent>&#8629;</b></div>
<div class="k pr nbd" style="left:777px;top:816.6px;width:41.4px;height:41px"><i></i><span class=n>@<br>'</span></div>
<div class="k pr nbd" style="left:821.1px;top:816.6px;width:41.4px;height:41px"><i></i><span class=n>~<br>#</span></div>
<div class="k peri" style="left:766px;top:862px;width:53px;height:41px"><i></i><span class=m><span class="sy s2">&#8679;</span> Shift</span><span class=z>1.25U</span></div>
<div class="k peri sm" style="left:821px;top:862px;width:41.5px;height:41px"><i></i><span class=n>¦<br>\</span></div>
<span class=rl style="left:700px;top:741.3px;font-size:18px">R4</span>
<span class=rl style="left:700px;top:786.9px;font-size:18px">R3</span>
<span class=rl style="left:700px;top:832.3px;font-size:18px">R2</span>
<span class=rl style="left:700px;top:877.8px;font-size:18px">R1</span>
<span class=rl style="left:1398.5px;top:413.5px;font-size:18px">R4</span>
<span class=rl style="left:1398.5px;top:479.9px;font-size:18px">R4</span>
<span class=rl style="left:1398.5px;top:524.6px;font-size:18px">R3</span>
<span class=rl style="left:1398.5px;top:569.3px;font-size:18px">R2</span>
<span class=rl style="left:1398.5px;top:612.9px;font-size:18px">R1</span>
<span class=rl style="left:1398.5px;top:657.6px;font-size:18px">R0</span>
<div class="k crim" style="left:1437.6px;top:402.9px;width:41.6px;height:41.4px"><i></i><span class=m>Esc</span></div>
<div class="k crim" style="left:1524.8px;top:402.9px;width:41.6px;height:41.4px"><i></i><span class=m>F1</span></div>
<div class="k crim" style="left:1568.5px;top:402.9px;width:41.6px;height:41.4px"><i></i><span class=m>F2</span></div>
<div class="k crim" style="left:1612.1px;top:402.9px;width:41.6px;height:41.4px"><i></i><span class=m>F3</span></div>
<div class="k crim" style="left:1655.7px;top:402.9px;width:41.6px;height:41.4px"><i></i><span class=m>F4</span></div>
<div class="k crim" style="left:1721.1px;top:402.9px;width:41.6px;height:41.4px"><i></i><span class=m>F5</span></div>
<div class="k crim" style="left:1764.8px;top:402.9px;width:41.6px;height:41.4px"><i></i><span class=m>F6</span></div>
<div class="k crim" style="left:1808.4px;top:402.9px;width:41.6px;height:41.4px"><i></i><span class=m>F7</span></div>
<div class="k crim" style="left:1852px;top:402.9px;width:41.6px;height:41.4px"><i></i><span class=m>F8</span></div>
<div class="k crim" style="left:1917.4px;top:402.9px;width:41.6px;height:41.4px"><i></i><span class=m>F9</span></div>
<div class="k crim" style="left:1961px;top:402.9px;width:41.6px;height:41.4px"><i></i><span class=m>F10</span></div>
<div class="k crim" style="left:2004.7px;top:402.9px;width:41.6px;height:41.4px"><i></i><span class=m>F11</span></div>
<div class="k crim" style="left:2048.3px;top:402.9px;width:41.6px;height:41.4px"><i></i><span class=m>F12</span></div>
<div class="k crim" style="left:2113.7px;top:402.9px;width:41.6px;height:41.4px"><i></i><span class=m>Print<br>Screen</span></div>
<div class="k crim" style="left:2157.3px;top:402.9px;width:41.6px;height:41.4px"><i></i><span class=m>Scroll<br>Lock</span></div>
<div class="k crim" style="left:2200.9px;top:402.9px;width:41.6px;height:41.4px"><i></i><span class=m>Pause</span></div>
<div class="k lblue" style="left:2266.4px;top:402.9px;width:41.6px;height:42.2px"><i></i><svg class=ic viewBox="0 0 30 30"><g fill="none" stroke="#222" stroke-width="1.4"><circle cx="11" cy="10.5" r="7"/><path d="M13.5 4c2 3.5-1 9-6 12M16.5 6.5c1 3.5-2 8-6 10.5"/><path d="M16 15.5l9.5 10" stroke-width="2.2"/></g></svg></div>
<div class="k lblue" style="left:2310px;top:402.9px;width:41.6px;height:42.2px"><i></i><svg class=ic viewBox="0 0 30 30"><g fill="none" stroke="#222" stroke-width="1.3"><circle cx="18" cy="12.5" r="5.5"/><circle cx="10" cy="17" r="6" fill="var(--i)"/><circle cx="19.5" cy="21" r="5.5" fill="var(--i)"/><path d="M9 11c-1-3 0-5 0-6 2 1 4 3 4 5M15 8c0-3 2-5 4-6 1 2 0 4-1 6"/><path d="M19.5 18.5l1 2 2 .5-2 1-1 2-1-2-2-1 2-.5z"/></g></svg></div>
<div class="k lpink" style="left:2353.6px;top:402.9px;width:41.6px;height:42.2px"><i></i><svg class=ic viewBox="0 0 30 30"><g fill="none" stroke="#222" stroke-width="1.5"><ellipse cx="15" cy="11.5" rx="10" ry="5.5"/><path d="M5 14.5c0 3 5 4 10 4s10-1 10-4M5 17.5c0 4 5 6 10 6s10-2 10-6M5 11.5v6M25 11.5v6"/></g></svg></div>
<div class="k lpink" style="left:2397.2px;top:402.9px;width:41.6px;height:42.2px"><i></i><svg class=ic viewBox="0 0 30 30"><g fill="none" stroke="#222" stroke-width="1.3"><path d="M9 11c-3 4-1 10 8 15 7-4 8-11 5-15"/><path d="M7 9l5 1 1-6 4 5 6-2-3 5-5 0-4 2-1-4z"/><path d="M12 16v1M16 15v1M19 17v1M14 20v1M17 21v1" stroke-width="1.6"/></g></svg></div>
<div class="k indigo" style="left:1437.6px;top:468.3px;width:41.6px;height:41.4px"><i></i><span class=n>~<br>`</span></div>
<div class="k indigo" style="left:1481.2px;top:468.3px;width:41.6px;height:41.4px"><i></i><span class=n>!<br>1</span></div>
<div class="k indigo" style="left:1524.8px;top:468.3px;width:41.6px;height:41.4px"><i></i><span class=n>@<br>2</span></div>
<div class="k indigo" style="left:1568.5px;top:468.3px;width:41.6px;height:41.4px"><i></i><span class=n>#<br>3</span></div>
<div class="k indigo" style="left:1612.1px;top:468.3px;width:41.6px;height:41.4px"><i></i><span class=n>$<br>4</span></div>
<div class="k indigo" style="left:1655.7px;top:468.3px;width:41.6px;height:41.4px"><i></i><span class=n>%<br>5</span></div>
<div class="k indigo" style="left:1699.3px;top:468.3px;width:41.6px;height:41.4px"><i></i><span class=n>^<br>6</span></div>
<div class="k indigo" style="left:1742.9px;top:468.3px;width:41.6px;height:41.4px"><i></i><span class=n>&amp;<br>7</span></div>
<div class="k indigo" style="left:1786.6px;top:468.3px;width:41.6px;height:41.4px"><i></i><span class=n>*<br>8</span></div>
<div class="k indigo" style="left:1830.2px;top:468.3px;width:41.6px;height:41.4px"><i></i><span class=n>(<br>9</span></div>
<div class="k indigo" style="left:1873.8px;top:468.3px;width:41.6px;height:41.4px"><i></i><span class=n>)<br>0</span></div>
<div class="k indigo" style="left:1917.4px;top:468.3px;width:41.6px;height:41.4px"><i></i><span class=n>—<br>−</span></div>
<div class="k indigo" style="left:1961px;top:468.3px;width:41.6px;height:41.4px"><i></i><span class=n>+<br>=</span></div>
<div class="k indigo" style="left:2004.7px;top:468.3px;width:85.2px;height:41.4px"><i></i><span class=m><span class=sy>&#9666;-</span> Backspace</span></div>
<div class="k indigo" style="left:2113.7px;top:468.3px;width:41.6px;height:41.4px"><i></i><span class=m>Insert</span></div>
<div class="k indigo" style="left:2157.3px;top:468.3px;width:41.6px;height:41.4px"><i></i><span class=m>Home</span></div>
<div class="k indigo" style="left:2200.9px;top:468.3px;width:41.6px;height:41.4px"><i></i><span class=m>Page<br>Up</span></div>
<div class="k indigo nb" style="left:2266.4px;top:468.3px;width:41.6px;height:41.4px"><i></i><span class=m>Num<br>Lock</span></div>
<div class="k indigo lc" style="left:2310px;top:468.3px;width:41.6px;height:41.4px"><i></i><b class=c>/</b></div>
<div class="k indigo lc" style="left:2353.6px;top:468.3px;width:41.6px;height:41.4px"><i></i><b class=c>*</b></div>
<div class="k indigo lc" style="left:2397.2px;top:468.3px;width:41.6px;height:41.4px"><i></i><b class=c>−</b></div>
<div class="k red2" style="left:1437.6px;top:512px;width:63.4px;height:41.4px"><i></i><span class=m>Tab</span><span class=tb>&#8676;<br>&#8677;</span></div>
<div class="k red2" style="left:1503px;top:512px;width:41.6px;height:41.4px"><i></i><b class=a>Q</b></div>
<div class="k red2" style="left:1546.6px;top:512px;width:41.6px;height:41.4px"><i></i><b class=a>W</b></div>
<div class="k red2" style="left:1590.3px;top:512px;width:41.6px;height:41.4px"><i></i><b class=a>E</b></div>
<div class="k red2" style="left:1633.9px;top:512px;width:41.6px;height:41.4px"><i></i><b class=a>R</b></div>
<div class="k red2" style="left:1677.5px;top:512px;width:41.6px;height:41.4px"><i></i><b class=a>T</b></div>
<div class="k red2" style="left:1721.1px;top:512px;width:41.6px;height:41.4px"><i></i><b class=a>Y</b></div>
<div class="k red2" style="left:1764.8px;top:512px;width:41.6px;height:41.4px"><i></i><b class=a>U</b></div>
<div class="k red2" style="left:1808.4px;top:512px;width:41.6px;height:41.4px"><i></i><b class=a>I</b></div>
<div class="k red2" style="left:1852px;top:512px;width:41.6px;height:41.4px"><i></i><b class=a>O</b></div>
<div class="k red2" style="left:1895.6px;top:512px;width:41.6px;height:41.4px"><i></i><b class=a>P</b></div>
<div class="k red2 sm" style="left:1939.2px;top:512px;width:41.6px;height:41.4px"><i></i><span class=n>{<br>[</span></div>
<div class="k red2 sm" style="left:1982.8px;top:512px;width:41.6px;height:41.4px"><i></i><span class=n>}<br>]</span></div>
<div class="k red2 sm" style="left:2026.5px;top:512px;width:63.4px;height:41.4px"><i></i><span class=n>¦<br>\</span></div>
<div class="k red2" style="left:2113.7px;top:512px;width:41.6px;height:41.4px"><i></i><span class=m>Delete</span></div>
<div class="k red2" style="left:2157.3px;top:512px;width:41.6px;height:41.4px"><i></i><span class=m>End</span></div>
<div class="k red2" style="left:2200.9px;top:512px;width:41.6px;height:41.4px"><i></i><span class=m>Page<br>Down</span></div>
<div class="k red2" style="left:2266.4px;top:512px;width:41.6px;height:41.4px"><i></i><b class=p>7<br><em>Home</em></b></div>
<div class="k red2" style="left:2310px;top:512px;width:41.6px;height:41.4px"><i></i><b class=p>8<br><em class=pa>↑</em></b></div>
<div class="k red2" style="left:2353.6px;top:512px;width:41.6px;height:41.4px"><i></i><b class=p>9<br><em>PgUp</em></b></div>
<div class="k red2 tall" style="left:2397.2px;top:512px;width:41.6px;height:84.7px"><i></i><b class=c>+</b></div>
<div class="k peri2" style="left:1437.6px;top:555.3px;width:74.3px;height:41.4px"><i></i><span class=m>Caps Lock</span></div>
<div class="k peri2" style="left:1513.9px;top:555.3px;width:41.6px;height:41.4px"><i></i><b class=a>A</b></div>
<div class="k peri2" style="left:1557.6px;top:555.3px;width:41.6px;height:41.4px"><i></i><b class=a>S</b></div>
<div class="k peri2" style="left:1601.2px;top:555.3px;width:41.6px;height:41.4px"><i></i><b class=a>D</b></div>
<div class="k peri2" style="left:1644.8px;top:555.3px;width:41.6px;height:41.4px"><i></i><b class=a>F</b></div>
<div class="k peri2" style="left:1688.4px;top:555.3px;width:41.6px;height:41.4px"><i></i><b class=a>G</b></div>
<div class="k peri2" style="left:1732px;top:555.3px;width:41.6px;height:41.4px"><i></i><b class=a>H</b></div>
<div class="k peri2" style="left:1775.7px;top:555.3px;width:41.6px;height:41.4px"><i></i><b class=a>J</b></div>
<div class="k peri2" style="left:1819.3px;top:555.3px;width:41.6px;height:41.4px"><i></i><b class=a>K</b></div>
<div class="k peri2" style="left:1862.9px;top:555.3px;width:41.6px;height:41.4px"><i></i><b class=a>L</b></div>
<div class="k peri2 sm" style="left:1906.5px;top:555.3px;width:41.6px;height:41.4px"><i></i><span class=n>:<br>;</span></div>
<div class="k peri2 sm" style="left:1950.1px;top:555.3px;width:41.6px;height:41.4px"><i></i><span class=n>"<br>,</span></div>
<div class="k peri2" style="left:1993.8px;top:555.3px;width:96.1px;height:41.4px"><i></i><span class=m><span class=sy>&#8629;</span> Enter</span></div>
<div class="k peri2" style="left:2266.4px;top:555.3px;width:41.6px;height:41.4px"><i></i><b class=p>4<br><em class=pa>←</em></b></div>
<div class="k peri2" style="left:2310px;top:555.3px;width:41.6px;height:41.4px"><i></i><b class=p>5<br><em></em></b></div>
<div class="k peri2" style="left:2353.6px;top:555.3px;width:41.6px;height:41.4px"><i></i><b class=p>6<br><em class=pa>→</em></b></div>
<div class="k pink" style="left:1437.6px;top:598.8px;width:96.1px;height:41.4px"><i></i><span class=m><span class="sy s2">&#8679;</span> Shift</span></div>
<div class="k pink" style="left:1535.7px;top:598.8px;width:41.6px;height:41.4px"><i></i><b class=a>Z</b></div>
<div class="k pink" style="left:1579.4px;top:598.8px;width:41.6px;height:41.4px"><i></i><b class=a>X</b></div>
<div class="k pink" style="left:1623px;top:598.8px;width:41.6px;height:41.4px"><i></i><b class=a>C</b></div>
<div class="k pink" style="left:1666.6px;top:598.8px;width:41.6px;height:41.4px"><i></i><b class=a>V</b></div>
<div class="k pink" style="left:1710.2px;top:598.8px;width:41.6px;height:41.4px"><i></i><b class=a>B</b></div>
<div class="k pink" style="left:1753.8px;top:598.8px;width:41.6px;height:41.4px"><i></i><b class=a>N</b></div>
<div class="k pink" style="left:1797.5px;top:598.8px;width:41.6px;height:41.4px"><i></i><b class=a>M</b></div>
<div class="k pink sm" style="left:1841.1px;top:598.8px;width:41.6px;height:41.4px"><i></i><span class=n>&lt;<br>,</span></div>
<div class="k pink sm" style="left:1884.7px;top:598.8px;width:41.6px;height:41.4px"><i></i><span class=n>&gt;<br>.</span></div>
<div class="k pink sm" style="left:1928.3px;top:598.8px;width:41.6px;height:41.4px"><i></i><span class=n>?<br>/</span></div>
<div class="k pink" style="left:1971.9px;top:598.8px;width:118px;height:41.4px"><i></i><span class=m><span class="sy s2">&#8679;</span> Shift</span></div>
<div class="k pink" style="left:2157.3px;top:598.8px;width:41.6px;height:41.4px"><i></i><b class=ar>↑</b></div>
<div class="k pink" style="left:2266.4px;top:598.8px;width:41.6px;height:41.4px"><i></i><b class=p>1<br><em>End</em></b></div>
<div class="k pink" style="left:2310px;top:598.8px;width:41.6px;height:41.4px"><i></i><b class=p>2<br><em class=pa>↓</em></b></div>
<div class="k pink" style="left:2353.6px;top:598.8px;width:41.6px;height:41.4px"><i></i><b class=p>3<br><em>PgDn</em></b></div>
<div class="k lblue tall" style="left:2397.2px;top:598.8px;width:41.6px;height:84.9px"><i></i><span class=ve>Enter</span></div>
<div class="k lblue" style="left:1437.6px;top:642.3px;width:52.5px;height:41.4px"><i></i><span class=m>Ctrl</span></div>
<div class="k lblue" style="left:1492.1px;top:642.3px;width:52.5px;height:41.4px"><i></i><span class="m w">Win</span></div>
<div class="k lblue" style="left:1546.6px;top:642.3px;width:52.5px;height:41.4px"><i></i><span class=m>Alt</span></div>
<div class="k lblue" style="left:1601.2px;top:642.3px;width:270.6px;height:41.4px"><i></i></div>
<div class="k lblue" style="left:1873.8px;top:642.3px;width:52.5px;height:41.4px"><i></i><span class=m>Alt</span></div>
<div class="k lblue" style="left:1928.3px;top:642.3px;width:52.5px;height:41.4px"><i></i><span class="m w">Win</span></div>
<div class="k lblue" style="left:1982.8px;top:642.3px;width:52.5px;height:41.4px"><i></i><span class="m w">Menu</span></div>
<div class="k lblue" style="left:2037.4px;top:642.3px;width:52.5px;height:41.4px"><i></i><span class=m>Ctrl</span></div>
<div class="k lblue" style="left:2113.7px;top:642.3px;width:41.6px;height:41.4px"><i></i><b class=ar>←</b></div>
<div class="k lblue" style="left:2157.3px;top:642.3px;width:41.6px;height:41.4px"><i></i><b class=ar>↓</b></div>
<div class="k lblue" style="left:2200.9px;top:642.3px;width:41.6px;height:41.4px"><i></i><b class=ar>→</b></div>
<div class="k lblue" style="left:2266.4px;top:642.3px;width:85.2px;height:41.4px"><i></i><b class=p>0<br><em>Ins</em></b></div>
<div class="k lblue" style="left:2353.6px;top:642.3px;width:41.6px;height:41.4px"><i></i><b class=p>·<br><em>Del</em></b></div>
<span class=rl style="left:1398.5px;top:723.8px;font-size:18px">R4</span>
<span class=rl style="left:1398.5px;top:790px;font-size:18px">R4</span>
<span class=rl style="left:1398.5px;top:837.5px;font-size:18px">R3</span>
<span class=rl style="left:1398.5px;top:880px;font-size:18px">R2</span>
<span class=rl style="left:1398.5px;top:927.5px;font-size:18px">R1</span>
<span class=rl style="left:1398.5px;top:971.4px;font-size:18px">R0</span>
<span class=rl style="left:1398.5px;top:1013.4px;font-size:18px">R0</span>
<div class="k crim" style="left:1437.1px;top:712.8px;width:41.1px;height:41.5px"><i></i></div>
<div class="k crim" style="left:1480.8px;top:712.8px;width:41.1px;height:41.5px"><i></i></div>
<div class="k crim" style="left:1524.6px;top:712.8px;width:41.1px;height:41.5px"><i></i></div>
<div class="k crim" style="left:1568.3px;top:712.8px;width:41.1px;height:41.5px"><i></i></div>
<div class="k indigo sm" style="left:1437.1px;top:780.5px;width:41.1px;height:41.5px"><i></i><span class=n>¦<br>\</span></div>
<div class="k indigo" style="left:1480.8px;top:780.5px;width:41.1px;height:41.5px"><i></i><span class=m>Delete</span></div>
<div class="k indigo" style="left:1524.6px;top:780.5px;width:41.1px;height:41.5px"><i></i><span class=m>End</span></div>
<div class="k indigo" style="left:1568.3px;top:780.5px;width:41.1px;height:41.5px"><i></i><span class=m>Page<br>Down</span></div>
<div class="k indigo" style="left:1612.1px;top:780.5px;width:41.1px;height:41.5px"><i></i><span class="m w">Fn</span></div>
<div class="k indigo" style="left:1655.8px;top:780.5px;width:41.1px;height:41.5px"><i></i><b class=ar>←</b></div>
<div class="k red2" style="left:1437.1px;top:825.2px;width:63px;height:41.5px"><i></i><span class=m>Backspace</span><span class=z>1.5U</span></div>
<div class="k red2" style="left:1502.7px;top:825.2px;width:41.1px;height:41.5px"><i></i><span class=m>Page<br>Up</span></div>
<div class="k red2 lc" style="left:1546.5px;top:825.2px;width:41.1px;height:41.5px"><i></i><b class=c>−</b></div>
<div class="k peri2 st" style="left:1437.1px;top:870px;width:75.3px;height:41.5px"><i></i><span class=m>Caps Lock</span><span class=z>3800</span></div>
<div class="k peri2 st" style="left:1515px;top:870px;width:75.3px;height:41.5px"><i></i><span class=m>Caps Lock</span><span class=z>3000</span></div>
<div class="k peri2" style="left:1592.8px;top:870px;width:75.3px;height:41.5px"><i></i><span class=m>Control</span><span class=z>1.75U</span></div>
<div class="k peri2" style="left:1670.7px;top:870px;width:41.1px;height:41.5px"><i></i><span class=m>Page<br>Up</span></div>
<div class="k peri2" style="left:1714.5px;top:870px;width:41.1px;height:41.5px"><i></i><span class=m>Page<br>Down</span></div>
<div class="k peri2 lc" style="left:1758.2px;top:870px;width:41.1px;height:41.5px"><i></i><b class=c>+</b></div>
<div class="k pink" style="left:1437.1px;top:914.8px;width:75.3px;height:41.5px"><i></i><span class=m><span class="sy s2">&#8679;</span> Shift</span><span class=z>1.75U</span></div>
<div class="k pink" style="left:1515px;top:914.8px;width:85.8px;height:41.5px"><i></i><span class=m><span class="sy s2">&#8679;</span> Shift</span><span class=z>2U</span></div>
<div class="k pink" style="left:1603.3px;top:914.8px;width:41.1px;height:41.5px"><i></i><span class=m>End</span></div>
<div class="k pink" style="left:1647.1px;top:914.8px;width:41.1px;height:41.5px"><i></i><span class=m>Page<br>Down</span></div>
<div class="k lblue" style="left:1437.1px;top:960px;width:63px;height:41.5px"><i></i><span class=m>Ctrl</span><span class=z>1.5U</span></div>
<div class="k lblue" style="left:1502.7px;top:960px;width:63px;height:41.5px"><i></i><span class=m>Ctrl</span><span class=z>1.5U</span></div>
<div class="k lblue" style="left:1568.3px;top:960px;width:63px;height:41.5px"><i></i><span class=m>Alt</span><span class=z>1.5U</span></div>
<div class="k lblue" style="left:1634px;top:960px;width:63px;height:41.5px"><i></i><span class=m>Alt</span><span class=z>1.5U</span></div>
<div class="k lblue" style="left:1699.6px;top:960px;width:41.1px;height:41.5px"><i></i><span class=m>Ctrl</span></div>
<div class="k lblue" style="left:1743.3px;top:960px;width:41.1px;height:41.5px"><i></i><span class=m>Alt</span></div>
<div class="k lblue" style="left:1787.1px;top:960px;width:41.1px;height:41.5px"><i></i><span class="m w">Win</span></div>
<div class="k lblue" style="left:1830.8px;top:960px;width:41.1px;height:41.5px"><i></i><span class="m w">Menu</span></div>
<div class="k lblue" style="left:1874.6px;top:960px;width:41.1px;height:41.5px"><i></i><span class="m w">Fn</span></div>
<div class="k lblue" style="left:1918.3px;top:960px;width:41.1px;height:41.5px"><i></i><b class=p>0<br><em>Ins</em></b></div>
<div class="k lblue" style="left:1962.1px;top:960px;width:52.1px;height:41.5px"><i></i><span class="m w">Fn</span><span class=z>1.25U</span></div>
<div class="k lblue" style="left:2016.8px;top:960px;width:41.1px;height:41.5px"><i></i></div>
<div class="k lblue" style="left:2060.5px;top:960px;width:41.1px;height:41.5px"><i></i></div>
<div class="k lblue" style="left:2104.3px;top:960px;width:41.1px;height:41.5px"><i></i></div>
<div class="k lblue" style="left:2148px;top:960px;width:41.1px;height:41.5px"><i></i></div>
<div class="k lblue" style="left:1437.1px;top:1004.3px;width:251.2px;height:41.5px"><i></i><span class=z>6U</span></div>
<div class="k lblue" style="left:1691.1px;top:1004.3px;width:294.9px;height:41.5px"><i></i><span class=z>7U</span></div>
<div class="k indigo sm i1" style="left:1961px;top:711px;width:41.4px;height:41.5px"><i></i><span class=n>¬<br>`</span></div>
<div class="k indigo nbd" style="left:2004.7px;top:711px;width:41.4px;height:41.5px"><i></i><span class=n>"<br>2</span></div>
<div class="k indigo nbd" style="left:2048.3px;top:711px;width:41.4px;height:41.5px"><i></i><span class=n>£<br>3</span></div>
<div class="k peri2" style="left:2095.4px;top:752px;width:64px;height:41.2px"></div>
<div class="k peri2" style="left:2106.4px;top:752px;width:53px;height:85.6px"></div>
<div class="kf peri2" style="left:2101.4px;top:754px;width:53px;height:33.2px"></div>
<div class="kf peri2" style="left:2112.4px;top:754px;width:42px;height:76.6px"><b class=ent>&#8629;</b></div>
<div class="k peri2 nbd" style="left:2005px;top:798.3px;width:41.1px;height:41px"><i></i><span class=n>@<br>'</span></div>
<div class="k peri2 nbd" style="left:2048.9px;top:798.3px;width:41.1px;height:41px"><i></i><span class=n>~<br>#</span></div>
<div class="k pink" style="left:1994px;top:843.5px;width:53px;height:41px"><i></i><span class=m><span class="sy s2">&#8679;</span> Shift</span><span class=z>1.25U</span></div>
<div class="k pink sm" style="left:2049.3px;top:843.5px;width:40.7px;height:41px"><i></i><span class=n>¦<br>\</span></div>
<span class=rl style="left:1928.2px;top:723.8px;font-size:18px">R4</span>
<span class=rl style="left:1928.2px;top:768.6px;font-size:18px">R3</span>
<span class=rl style="left:1928.2px;top:814.3px;font-size:18px">R2</span>
<span class=rl style="left:1928.2px;top:858.5px;font-size:18px">R1</span>
<span class=rl style="left:228.5px;top:1486.8px;font-size:18px">R4</span>
<span class=rl style="left:228.5px;top:1553.1px;font-size:18px">R4</span>
<span class=rl style="left:228.5px;top:1597.1px;font-size:18px">R3</span>
<span class=rl style="left:228.5px;top:1640.6px;font-size:18px">R2</span>
<span class=rl style="left:228.5px;top:1684.1px;font-size:18px">R1</span>
<span class=rl style="left:228.5px;top:1727.6px;font-size:18px">R0</span>
<div class="k navy" style="left:266.7px;top:1476.3px;width:40.5px;height:40.3px"><i></i><span class=m>Esc</span></div>
<div class="k navy" style="left:352.9px;top:1476.3px;width:40.5px;height:40.3px"><i></i><span class=m>F1</span></div>
<div class="k navy" style="left:396px;top:1476.3px;width:40.5px;height:40.3px"><i></i><span class=m>F2</span></div>
<div class="k navy" style="left:439.1px;top:1476.3px;width:40.5px;height:40.3px"><i></i><span class=m>F3</span></div>
<div class="k navy" style="left:482.2px;top:1476.3px;width:40.5px;height:40.3px"><i></i><span class=m>F4</span></div>
<div class="k navy" style="left:546.9px;top:1476.3px;width:40.5px;height:40.3px"><i></i><span class=m>F5</span></div>
<div class="k navy" style="left:590px;top:1476.3px;width:40.5px;height:40.3px"><i></i><span class=m>F6</span></div>
<div class="k navy" style="left:633px;top:1476.3px;width:40.5px;height:40.3px"><i></i><span class=m>F7</span></div>
<div class="k navy" style="left:676.1px;top:1476.3px;width:40.5px;height:40.3px"><i></i><span class=m>F8</span></div>
<div class="k navy" style="left:740.8px;top:1476.3px;width:40.5px;height:40.3px"><i></i><span class=m>F9</span></div>
<div class="k navy" style="left:783.9px;top:1476.3px;width:40.5px;height:40.3px"><i></i><span class=m>F10</span></div>
<div class="k navy" style="left:827px;top:1476.3px;width:40.5px;height:40.3px"><i></i><span class=m>F11</span></div>
<div class="k navy" style="left:870.1px;top:1476.3px;width:40.5px;height:40.3px"><i></i><span class=m>F12</span></div>
<div class="k navy" style="left:934.8px;top:1476.3px;width:40.5px;height:40.3px"><i></i><span class=m>Print<br>Screen</span></div>
<div class="k navy" style="left:977.8px;top:1476.3px;width:40.5px;height:40.3px"><i></i><span class=m>Scroll<br>Lock</span></div>
<div class="k navy" style="left:1021px;top:1476.3px;width:40.5px;height:40.3px"><i></i><span class=m>Pause</span></div>
<div class="k indigo" style="left:266.7px;top:1541.7px;width:40.5px;height:40.3px"><i></i><span class=n>~<br>`</span></div>
<div class="k indigo" style="left:309.8px;top:1541.7px;width:40.5px;height:40.3px"><i></i><span class=n>!<br>1</span></div>
<div class="k indigo" style="left:352.9px;top:1541.7px;width:40.5px;height:40.3px"><i></i><span class=n>@<br>2</span></div>
<div class="k indigo" style="left:396px;top:1541.7px;width:40.5px;height:40.3px"><i></i><span class=n>#<br>3</span></div>
<div class="k indigo" style="left:439.1px;top:1541.7px;width:40.5px;height:40.3px"><i></i><span class=n>$<br>4</span></div>
<div class="k indigo" style="left:482.2px;top:1541.7px;width:40.5px;height:40.3px"><i></i><span class=n>%<br>5</span></div>
<div class="k indigo" style="left:525.3px;top:1541.7px;width:40.5px;height:40.3px"><i></i><span class=n>^<br>6</span></div>
<div class="k indigo" style="left:568.4px;top:1541.7px;width:40.5px;height:40.3px"><i></i><span class=n>&amp;<br>7</span></div>
<div class="k indigo" style="left:611.5px;top:1541.7px;width:40.5px;height:40.3px"><i></i><span class=n>*<br>8</span></div>
<div class="k indigo" style="left:654.6px;top:1541.7px;width:40.5px;height:40.3px"><i></i><span class=n>(<br>9</span></div>
<div class="k indigo" style="left:697.7px;top:1541.7px;width:40.5px;height:40.3px"><i></i><span class=n>)<br>0</span></div>
<div class="k indigo" style="left:740.8px;top:1541.7px;width:40.5px;height:40.3px"><i></i><span class=n>—<br>−</span></div>
<div class="k indigo" style="left:783.9px;top:1541.7px;width:40.5px;height:40.3px"><i></i><span class=n>+<br>=</span></div>
<div class="k indigo" style="left:827px;top:1541.7px;width:83.6px;height:40.3px"><i></i><span class=m><span class=sy>&#9666;-</span> Backspace</span></div>
<div class="k indigo" style="left:934.8px;top:1541.7px;width:40.5px;height:40.3px"><i></i><span class=m>Insert</span></div>
<div class="k indigo" style="left:977.8px;top:1541.7px;width:40.5px;height:40.3px"><i></i><span class=m>Home</span></div>
<div class="k indigo" style="left:1021px;top:1541.7px;width:40.5px;height:40.3px"><i></i><span class=m>Page<br>Up</span></div>
<div class="k indigo nb" style="left:1085.6px;top:1541.7px;width:40.5px;height:40.3px"><i></i><span class=m>Num<br>Lock</span></div>
<div class="k indigo lc" style="left:1128.7px;top:1541.7px;width:40.5px;height:40.3px"><i></i><b class=c>/</b></div>
<div class="k indigo lc" style="left:1171.8px;top:1541.7px;width:40.5px;height:40.3px"><i></i><b class=c>*</b></div>
<div class="k indigo lc" style="left:1214.9px;top:1541.7px;width:40.5px;height:40.3px"><i></i><b class=c>−</b></div>
<div class="k bp" style="left:266.7px;top:1584.8px;width:62.1px;height:40.3px"><i></i><span class=m>Tab</span><span class=tb>&#8676;<br>&#8677;</span></div>
<div class="k bp" style="left:331.4px;top:1584.8px;width:40.5px;height:40.3px"><i></i><b class=a>Q</b></div>
<div class="k bp" style="left:374.4px;top:1584.8px;width:40.5px;height:40.3px"><i></i><b class=a>W</b></div>
<div class="k bp" style="left:417.5px;top:1584.8px;width:40.5px;height:40.3px"><i></i><b class=a>E</b></div>
<div class="k bp" style="left:460.6px;top:1584.8px;width:40.5px;height:40.3px"><i></i><b class=a>R</b></div>
<div class="k bp" style="left:503.8px;top:1584.8px;width:40.5px;height:40.3px"><i></i><b class=a>T</b></div>
<div class="k bp" style="left:546.9px;top:1584.8px;width:40.5px;height:40.3px"><i></i><b class=a>Y</b></div>
<div class="k bp" style="left:590px;top:1584.8px;width:40.5px;height:40.3px"><i></i><b class=a>U</b></div>
<div class="k bp" style="left:633px;top:1584.8px;width:40.5px;height:40.3px"><i></i><b class=a>I</b></div>
<div class="k bp" style="left:676.1px;top:1584.8px;width:40.5px;height:40.3px"><i></i><b class=a>O</b></div>
<div class="k bp" style="left:719.2px;top:1584.8px;width:40.5px;height:40.3px"><i></i><b class=a>P</b></div>
<div class="k bp sm" style="left:762.4px;top:1584.8px;width:40.5px;height:40.3px"><i></i><span class=n>{<br>[</span></div>
<div class="k bp sm" style="left:805.5px;top:1584.8px;width:40.5px;height:40.3px"><i></i><span class=n>}<br>]</span></div>
<div class="k bp sm" style="left:848.5px;top:1584.8px;width:62.1px;height:40.3px"><i></i><span class=n>¦<br>\</span></div>
<div class="k bp" style="left:934.8px;top:1584.8px;width:40.5px;height:40.3px"><i></i><span class=m>Delete</span></div>
<div class="k bp" style="left:977.8px;top:1584.8px;width:40.5px;height:40.3px"><i></i><span class=m>End</span></div>
<div class="k bp" style="left:1021px;top:1584.8px;width:40.5px;height:40.3px"><i></i><span class=m>Page<br>Down</span></div>
<div class="k bp" style="left:1085.6px;top:1584.8px;width:40.5px;height:40.3px"><i></i><b class=p>7<br><em>Home</em></b></div>
<div class="k bp" style="left:1128.7px;top:1584.8px;width:40.5px;height:40.3px"><i></i><b class=p>8<br><em class=pa>↑</em></b></div>
<div class="k bp" style="left:1171.8px;top:1584.8px;width:40.5px;height:40.3px"><i></i><b class=p>9<br><em>PgUp</em></b></div>
<div class="k bp tall" style="left:1214.9px;top:1584.8px;width:40.5px;height:83.4px"><i></i><b class=c>+</b></div>
<div class="k peri2" style="left:266.7px;top:1627.9px;width:72.8px;height:40.3px"><i></i><span class=m>Caps Lock</span></div>
<div class="k peri2" style="left:342.1px;top:1627.9px;width:40.5px;height:40.3px"><i></i><b class=a>A</b></div>
<div class="k peri2" style="left:385.2px;top:1627.9px;width:40.5px;height:40.3px"><i></i><b class=a>S</b></div>
<div class="k peri2" style="left:428.3px;top:1627.9px;width:40.5px;height:40.3px"><i></i><b class=a>D</b></div>
<div class="k peri2" style="left:471.4px;top:1627.9px;width:40.5px;height:40.3px"><i></i><b class=a>F</b></div>
<div class="k peri2" style="left:514.5px;top:1627.9px;width:40.5px;height:40.3px"><i></i><b class=a>G</b></div>
<div class="k peri2" style="left:557.6px;top:1627.9px;width:40.5px;height:40.3px"><i></i><b class=a>H</b></div>
<div class="k peri2" style="left:600.7px;top:1627.9px;width:40.5px;height:40.3px"><i></i><b class=a>J</b></div>
<div class="k peri2" style="left:643.8px;top:1627.9px;width:40.5px;height:40.3px"><i></i><b class=a>K</b></div>
<div class="k peri2" style="left:686.9px;top:1627.9px;width:40.5px;height:40.3px"><i></i><b class=a>L</b></div>
<div class="k peri2 sm" style="left:730px;top:1627.9px;width:40.5px;height:40.3px"><i></i><span class=n>:<br>;</span></div>
<div class="k peri2 sm" style="left:773.1px;top:1627.9px;width:40.5px;height:40.3px"><i></i><span class=n>"<br>,</span></div>
<div class="k peri2" style="left:816.2px;top:1627.9px;width:94.4px;height:40.3px"><i></i><span class=m><span class=sy>&#8629;</span> Enter</span></div>
<div class="k peri2" style="left:1085.6px;top:1627.9px;width:40.5px;height:40.3px"><i></i><b class=p>4<br><em class=pa>←</em></b></div>
<div class="k peri2" style="left:1128.7px;top:1627.9px;width:40.5px;height:40.3px"><i></i><b class=p>5<br><em></em></b></div>
<div class="k peri2" style="left:1171.8px;top:1627.9px;width:40.5px;height:40.3px"><i></i><b class=p>6<br><em class=pa>→</em></b></div>
<div class="k peri" style="left:266.7px;top:1671px;width:94.4px;height:40.3px"><i></i><span class=m><span class="sy s2">&#8679;</span> Shift</span></div>
<div class="k peri" style="left:363.7px;top:1671px;width:40.5px;height:40.3px"><i></i><b class=a>Z</b></div>
<div class="k peri" style="left:406.8px;top:1671px;width:40.5px;height:40.3px"><i></i><b class=a>X</b></div>
<div class="k peri" style="left:449.9px;top:1671px;width:40.5px;height:40.3px"><i></i><b class=a>C</b></div>
<div class="k peri" style="left:493px;top:1671px;width:40.5px;height:40.3px"><i></i><b class=a>V</b></div>
<div class="k peri" style="left:536.1px;top:1671px;width:40.5px;height:40.3px"><i></i><b class=a>B</b></div>
<div class="k peri" style="left:579.2px;top:1671px;width:40.5px;height:40.3px"><i></i><b class=a>N</b></div>
<div class="k peri" style="left:622.3px;top:1671px;width:40.5px;height:40.3px"><i></i><b class=a>M</b></div>
<div class="k peri sm" style="left:665.4px;top:1671px;width:40.5px;height:40.3px"><i></i><span class=n>&lt;<br>,</span></div>
<div class="k peri sm" style="left:708.5px;top:1671px;width:40.5px;height:40.3px"><i></i><span class=n>&gt;<br>.</span></div>
<div class="k peri sm" style="left:751.6px;top:1671px;width:40.5px;height:40.3px"><i></i><span class=n>?<br>/</span></div>
<div class="k peri" style="left:794.7px;top:1671px;width:115.9px;height:40.3px"><i></i><span class=m><span class="sy s2">&#8679;</span> Shift</span></div>
<div class="k peri" style="left:977.8px;top:1671px;width:40.5px;height:40.3px"><i></i><b class=ar>↑</b></div>
<div class="k peri" style="left:1085.6px;top:1671px;width:40.5px;height:40.3px"><i></i><b class=p>1<br><em>End</em></b></div>
<div class="k peri" style="left:1128.7px;top:1671px;width:40.5px;height:40.3px"><i></i><b class=p>2<br><em class=pa>↓</em></b></div>
<div class="k peri" style="left:1171.8px;top:1671px;width:40.5px;height:40.3px"><i></i><b class=p>3<br><em>PgDn</em></b></div>
<div class="k lblue tall" style="left:1214.9px;top:1671px;width:40.5px;height:83.4px"><i></i><span class=ve>Enter</span></div>
<div class="k lblue" style="left:266.7px;top:1714.1px;width:51.3px;height:40.3px"><i></i><span class=m>Ctrl</span></div>
<div class="k lblue" style="left:320.6px;top:1714.1px;width:51.3px;height:40.3px"><i></i><span class="m w">Win</span></div>
<div class="k lblue" style="left:374.4px;top:1714.1px;width:51.3px;height:40.3px"><i></i><span class=m>Alt</span></div>
<div class="k lblue" style="left:428.3px;top:1714.1px;width:266.8px;height:40.3px"><i></i></div>
<div class="k lblue" style="left:697.7px;top:1714.1px;width:51.3px;height:40.3px"><i></i><span class=m>Alt</span></div>
<div class="k lblue" style="left:751.6px;top:1714.1px;width:51.3px;height:40.3px"><i></i><span class="m w">Win</span></div>
<div class="k lblue" style="left:805.5px;top:1714.1px;width:51.3px;height:40.3px"><i></i><span class="m w">Menu</span></div>
<div class="k lblue" style="left:859.3px;top:1714.1px;width:51.3px;height:40.3px"><i></i><span class=m>Ctrl</span></div>
<div class="k lblue" style="left:934.8px;top:1714.1px;width:40.5px;height:40.3px"><i></i><b class=ar>←</b></div>
<div class="k lblue" style="left:977.8px;top:1714.1px;width:40.5px;height:40.3px"><i></i><b class=ar>↓</b></div>
<div class="k lblue" style="left:1021px;top:1714.1px;width:40.5px;height:40.3px"><i></i><b class=ar>→</b></div>
<div class="k lblue" style="left:1085.6px;top:1714.1px;width:83.6px;height:40.3px"><i></i><b class=p>0<br><em>Ins</em></b></div>
<div class="k lblue" style="left:1171.8px;top:1714.1px;width:40.5px;height:40.3px"><i></i><b class=p>·<br><em>Del</em></b></div>
<span class=rl style="left:228.5px;top:1793.8px;font-size:18px">R4</span>
<span class=rl style="left:228.5px;top:1859.6px;font-size:18px">R4</span>
<span class=rl style="left:228.5px;top:1905.7px;font-size:18px">R3</span>
<span class=rl style="left:228.5px;top:1948.2px;font-size:18px">R2</span>
<span class=rl style="left:228.5px;top:1994.8px;font-size:18px">R1</span>
<span class=rl style="left:228.5px;top:2038.2px;font-size:18px">R0</span>
<span class=rl style="left:228.5px;top:2079.3px;font-size:18px">R0</span>
<div class="k navy" style="left:266.7px;top:1783.3px;width:40.4px;height:40.7px"><i></i></div>
<div class="k navy" style="left:309.8px;top:1783.3px;width:40.4px;height:40.7px"><i></i></div>
<div class="k navy" style="left:353px;top:1783.3px;width:40.4px;height:40.7px"><i></i></div>
<div class="k navy" style="left:396.1px;top:1783.3px;width:40.4px;height:40.7px"><i></i></div>
<div class="k lblue" style="left:439.3px;top:1783.3px;width:40.4px;height:40.7px"><i></i><svg class=ic viewBox="0 0 30 30"><g fill="none" stroke="#222" stroke-width="1.4"><circle cx="11" cy="10.5" r="7"/><path d="M13.5 4c2 3.5-1 9-6 12M16.5 6.5c1 3.5-2 8-6 10.5"/><path d="M16 15.5l9.5 10" stroke-width="2.2"/></g></svg></div>
<div class="k lblue" style="left:482.4px;top:1783.3px;width:40.4px;height:40.7px"><i></i><svg class=ic viewBox="0 0 30 30"><g fill="none" stroke="#222" stroke-width="1.3"><circle cx="18" cy="12.5" r="5.5"/><circle cx="10" cy="17" r="6" fill="var(--i)"/><circle cx="19.5" cy="21" r="5.5" fill="var(--i)"/><path d="M9 11c-1-3 0-5 0-6 2 1 4 3 4 5M15 8c0-3 2-5 4-6 1 2 0 4-1 6"/><path d="M19.5 18.5l1 2 2 .5-2 1-1 2-1-2-2-1 2-.5z"/></g></svg></div>
<div class="k indigo sm" style="left:266.7px;top:1850px;width:40.4px;height:40.7px"><i></i><span class=n>¦<br>\</span></div>
<div class="k indigo" style="left:309.8px;top:1850px;width:40.4px;height:40.7px"><i></i><span class=m>Delete</span></div>
<div class="k indigo" style="left:353px;top:1850px;width:40.4px;height:40.7px"><i></i><span class=m>End</span></div>
<div class="k indigo" style="left:396.1px;top:1850px;width:40.4px;height:40.7px"><i></i><span class=m>Page<br>Down</span></div>
<div class="k indigo" style="left:439.3px;top:1850px;width:40.4px;height:40.7px"><i></i><span class="m w">Fn</span></div>
<div class="k indigo" style="left:482.4px;top:1850px;width:40.4px;height:40.7px"><i></i><b class=ar>←</b></div>
<div class="k bp" style="left:266.7px;top:1894.3px;width:62px;height:40.7px"><i></i><span class=m>Backspace</span><span class=z>1.5U</span></div>
<div class="k bp" style="left:331.4px;top:1894.3px;width:40.4px;height:40.7px"><i></i><span class=m>Page<br>Up</span></div>
<div class="k bp lc" style="left:374.6px;top:1894.3px;width:40.4px;height:40.7px"><i></i><b class=c>−</b></div>
<div class="k peri2 st" style="left:266.7px;top:1938.6px;width:74.1px;height:40.7px"><i></i><span class=m>Caps Lock</span><span class=z>3800</span></div>
<div class="k peri2 st" style="left:343.5px;top:1938.6px;width:74.1px;height:40.7px"><i></i><span class=m>Caps Lock</span><span class=z>3000</span></div>
<div class="k peri2" style="left:420.3px;top:1938.6px;width:74.1px;height:40.7px"><i></i><span class=m>Control</span><span class=z>1.75U</span></div>
<div class="k peri2" style="left:497.1px;top:1938.6px;width:40.4px;height:40.7px"><i></i><span class=m>Page<br>Up</span></div>
<div class="k peri2" style="left:540.3px;top:1938.6px;width:40.4px;height:40.7px"><i></i><span class=m>Page<br>Down</span></div>
<div class="k peri2 lc" style="left:583.4px;top:1938.6px;width:40.4px;height:40.7px"><i></i><b class=c>+</b></div>
<div class="k peri" style="left:266.7px;top:1982.9px;width:74.1px;height:40.7px"><i></i><span class=m><span class="sy s2">&#8679;</span> Shift</span><span class=z>1.75U</span></div>
<div class="k peri" style="left:343.5px;top:1982.9px;width:84.5px;height:40.7px"><i></i><span class=m><span class="sy s2">&#8679;</span> Shift</span><span class=z>2U</span></div>
<div class="k peri" style="left:430.7px;top:1982.9px;width:40.4px;height:40.7px"><i></i><span class=m>End</span></div>
<div class="k peri" style="left:473.8px;top:1982.9px;width:40.4px;height:40.7px"><i></i><span class=m>Page<br>Down</span></div>
<div class="k lblue" style="left:266.7px;top:2027.2px;width:62px;height:40.7px"><i></i><span class=m>Ctrl</span><span class=z>1.5U</span></div>
<div class="k lblue" style="left:331.4px;top:2027.2px;width:62px;height:40.7px"><i></i><span class=m>Ctrl</span><span class=z>1.5U</span></div>
<div class="k lblue" style="left:396.1px;top:2027.2px;width:62px;height:40.7px"><i></i><span class=m>Alt</span><span class=z>1.5U</span></div>
<div class="k lblue" style="left:460.9px;top:2027.2px;width:62px;height:40.7px"><i></i><span class=m>Alt</span><span class=z>1.5U</span></div>
<div class="k lblue" style="left:525.6px;top:2027.2px;width:40.4px;height:40.7px"><i></i><span class=m>Ctrl</span></div>
<div class="k lblue" style="left:568.8px;top:2027.2px;width:40.4px;height:40.7px"><i></i><span class=m>Alt</span></div>
<div class="k lblue" style="left:611.9px;top:2027.2px;width:40.4px;height:40.7px"><i></i><span class="m w">Win</span></div>
<div class="k lblue" style="left:655px;top:2027.2px;width:40.4px;height:40.7px"><i></i><span class="m w">Menu</span></div>
<div class="k lblue" style="left:698.2px;top:2027.2px;width:40.4px;height:40.7px"><i></i><span class="m w">Fn</span></div>
<div class="k lblue" style="left:741.3px;top:2027.2px;width:40.4px;height:40.7px"><i></i><b class=p>0<br><em>Ins</em></b></div>
<div class="k lblue" style="left:784.5px;top:2027.2px;width:51.2px;height:40.7px"><i></i><span class="m w">Fn</span><span class=z>1.25U</span></div>
<div class="k lblue" style="left:838.4px;top:2027.2px;width:40.4px;height:40.7px"><i></i></div>
<div class="k lblue" style="left:881.6px;top:2027.2px;width:40.4px;height:40.7px"><i></i></div>
<div class="k lblue" style="left:924.7px;top:2027.2px;width:40.4px;height:40.7px"><i></i></div>
<div class="k lblue" style="left:967.9px;top:2027.2px;width:40.4px;height:40.7px"><i></i></div>
<div class="k lblue" style="left:266.7px;top:2071.6px;width:247.6px;height:40.7px"><i></i><span class=z>6U</span></div>
<div class="k lblue" style="left:517.3px;top:2071.6px;width:290.7px;height:40.7px"><i></i><span class=z>7U</span></div>
<div class="k indigo sm i1" style="left:784.7px;top:1781.5px;width:40.5px;height:40.7px"><i></i><span class=n>¬<br>`</span></div>
<div class="k indigo nbd" style="left:827.6px;top:1781.5px;width:40.5px;height:40.7px"><i></i><span class=n>"<br>2</span></div>
<div class="k indigo nbd" style="left:870.5px;top:1781.5px;width:40.5px;height:40.7px"><i></i><span class=n>£<br>3</span></div>
<div class="k peri2" style="left:916.8px;top:1821.7px;width:62.6px;height:41.1px"></div>
<div class="k peri2" style="left:927.3px;top:1821.7px;width:52.1px;height:84.5px"></div>
<div class="kf peri2" style="left:922.8px;top:1823.7px;width:51.6px;height:33.1px"></div>
<div class="kf peri2" style="left:933.3px;top:1823.7px;width:41.1px;height:75.5px"><b class=ent>&#8629;</b></div>
<div class="k peri2 nbd" style="left:827.2px;top:1867.8px;width:40.4px;height:40.2px"><i></i><span class=n>@<br>'</span></div>
<div class="k peri2 nbd" style="left:870.4px;top:1867.8px;width:40.4px;height:40.2px"><i></i><span class=n>~<br>#</span></div>
<div class="k peri" style="left:816.7px;top:1912.6px;width:51.2px;height:40.2px"><i></i><span class=m><span class="sy s2">&#8679;</span> Shift</span><span class=z>1.25U</span></div>
<div class="k peri sm" style="left:870.6px;top:1912.6px;width:40.2px;height:40.2px"><i></i><span class=n>¦<br>\</span></div>
<span class=rl style="left:751.4px;top:1793.8px;font-size:18px">R4</span>
<span class=rl style="left:751.4px;top:1838.1px;font-size:18px">R3</span>
<span class=rl style="left:751.4px;top:1882.9px;font-size:18px">R2</span>
<span class=rl style="left:751.4px;top:1927.2px;font-size:18px">R1</span>
<span class=rl style="left:1402.5px;top:1483.4px;font-size:18px">R4</span>
<span class=rl style="left:1402.5px;top:1548.4px;font-size:18px">R4</span>
<span class=rl style="left:1402.5px;top:1592.3px;font-size:18px">R3</span>
<span class=rl style="left:1402.5px;top:1634.9px;font-size:18px">R2</span>
<span class=rl style="left:1402.5px;top:1678.4px;font-size:18px">R1</span>
<span class=rl style="left:1402.5px;top:1721.9px;font-size:18px">R0</span>
<div class="k crim" style="left:1440.3px;top:1473px;width:40.1px;height:39.8px"><i></i><span class=m>Esc</span></div>
<div class="k crim" style="left:1525.2px;top:1473px;width:40.1px;height:39.8px"><i></i><span class=m>F1</span></div>
<div class="k crim" style="left:1567.7px;top:1473px;width:40.1px;height:39.8px"><i></i><span class=m>F2</span></div>
<div class="k crim" style="left:1610.2px;top:1473px;width:40.1px;height:39.8px"><i></i><span class=m>F3</span></div>
<div class="k crim" style="left:1652.6px;top:1473px;width:40.1px;height:39.8px"><i></i><span class=m>F4</span></div>
<div class="k crim" style="left:1716.4px;top:1473px;width:40.1px;height:39.8px"><i></i><span class=m>F5</span></div>
<div class="k crim" style="left:1758.8px;top:1473px;width:40.1px;height:39.8px"><i></i><span class=m>F6</span></div>
<div class="k crim" style="left:1801.3px;top:1473px;width:40.1px;height:39.8px"><i></i><span class=m>F7</span></div>
<div class="k crim" style="left:1843.8px;top:1473px;width:40.1px;height:39.8px"><i></i><span class=m>F8</span></div>
<div class="k crim" style="left:1907.5px;top:1473px;width:40.1px;height:39.8px"><i></i><span class=m>F9</span></div>
<div class="k crim" style="left:1949.9px;top:1473px;width:40.1px;height:39.8px"><i></i><span class=m>F10</span></div>
<div class="k crim" style="left:1992.4px;top:1473px;width:40.1px;height:39.8px"><i></i><span class=m>F11</span></div>
<div class="k crim" style="left:2034.9px;top:1473px;width:40.1px;height:39.8px"><i></i><span class=m>F12</span></div>
<div class="k crim" style="left:2098.6px;top:1473px;width:40.1px;height:39.8px"><i></i><span class=m>Print<br>Screen</span></div>
<div class="k crim" style="left:2141.1px;top:1473px;width:40.1px;height:39.8px"><i></i><span class=m>Scroll<br>Lock</span></div>
<div class="k crim" style="left:2183.5px;top:1473px;width:40.1px;height:39.8px"><i></i><span class=m>Pause</span></div>
<div class="k red" style="left:1440.3px;top:1537.4px;width:40.1px;height:39.8px"><i></i><span class=n>~<br>`</span></div>
<div class="k red" style="left:1482.8px;top:1537.4px;width:40.1px;height:39.8px"><i></i><span class=n>!<br>1</span></div>
<div class="k red" style="left:1525.2px;top:1537.4px;width:40.1px;height:39.8px"><i></i><span class=n>@<br>2</span></div>
<div class="k red" style="left:1567.7px;top:1537.4px;width:40.1px;height:39.8px"><i></i><span class=n>#<br>3</span></div>
<div class="k red" style="left:1610.2px;top:1537.4px;width:40.1px;height:39.8px"><i></i><span class=n>$<br>4</span></div>
<div class="k red" style="left:1652.6px;top:1537.4px;width:40.1px;height:39.8px"><i></i><span class=n>%<br>5</span></div>
<div class="k red" style="left:1695.1px;top:1537.4px;width:40.1px;height:39.8px"><i></i><span class=n>^<br>6</span></div>
<div class="k red" style="left:1737.6px;top:1537.4px;width:40.1px;height:39.8px"><i></i><span class=n>&amp;<br>7</span></div>
<div class="k red" style="left:1780.1px;top:1537.4px;width:40.1px;height:39.8px"><i></i><span class=n>*<br>8</span></div>
<div class="k red" style="left:1822.5px;top:1537.4px;width:40.1px;height:39.8px"><i></i><span class=n>(<br>9</span></div>
<div class="k red" style="left:1865px;top:1537.4px;width:40.1px;height:39.8px"><i></i><span class=n>)<br>0</span></div>
<div class="k red" style="left:1907.5px;top:1537.4px;width:40.1px;height:39.8px"><i></i><span class=n>—<br>−</span></div>
<div class="k red" style="left:1949.9px;top:1537.4px;width:40.1px;height:39.8px"><i></i><span class=n>+<br>=</span></div>
<div class="k red" style="left:1992.4px;top:1537.4px;width:82.5px;height:39.8px"><i></i><span class=m><span class=sy>&#9666;-</span> Backspace</span></div>
<div class="k red" style="left:2098.6px;top:1537.4px;width:40.1px;height:39.8px"><i></i><span class=m>Insert</span></div>
<div class="k red" style="left:2141.1px;top:1537.4px;width:40.1px;height:39.8px"><i></i><span class=m>Home</span></div>
<div class="k red" style="left:2183.5px;top:1537.4px;width:40.1px;height:39.8px"><i></i><span class=m>Page<br>Up</span></div>
<div class="k red nb" style="left:2247.2px;top:1537.4px;width:40.1px;height:39.8px"><i></i><span class=m>Num<br>Lock</span></div>
<div class="k red lc" style="left:2289.7px;top:1537.4px;width:40.1px;height:39.8px"><i></i><b class=c>/</b></div>
<div class="k red lc" style="left:2332.2px;top:1537.4px;width:40.1px;height:39.8px"><i></i><b class=c>*</b></div>
<div class="k red lc" style="left:2374.6px;top:1537.4px;width:40.1px;height:39.8px"><i></i><b class=c>−</b></div>
<div class="k red2" style="left:1440.3px;top:1579.9px;width:61.3px;height:39.8px"><i></i><span class=m>Tab</span><span class=tb>&#8676;<br>&#8677;</span></div>
<div class="k red2" style="left:1504px;top:1579.9px;width:40.1px;height:39.8px"><i></i><b class=a>Q</b></div>
<div class="k red2" style="left:1546.5px;top:1579.9px;width:40.1px;height:39.8px"><i></i><b class=a>W</b></div>
<div class="k red2" style="left:1588.9px;top:1579.9px;width:40.1px;height:39.8px"><i></i><b class=a>E</b></div>
<div class="k red2" style="left:1631.4px;top:1579.9px;width:40.1px;height:39.8px"><i></i><b class=a>R</b></div>
<div class="k red2" style="left:1673.9px;top:1579.9px;width:40.1px;height:39.8px"><i></i><b class=a>T</b></div>
<div class="k red2" style="left:1716.4px;top:1579.9px;width:40.1px;height:39.8px"><i></i><b class=a>Y</b></div>
<div class="k red2" style="left:1758.8px;top:1579.9px;width:40.1px;height:39.8px"><i></i><b class=a>U</b></div>
<div class="k red2" style="left:1801.3px;top:1579.9px;width:40.1px;height:39.8px"><i></i><b class=a>I</b></div>
<div class="k red2" style="left:1843.8px;top:1579.9px;width:40.1px;height:39.8px"><i></i><b class=a>O</b></div>
<div class="k red2" style="left:1886.2px;top:1579.9px;width:40.1px;height:39.8px"><i></i><b class=a>P</b></div>
<div class="k red2 sm" style="left:1928.7px;top:1579.9px;width:40.1px;height:39.8px"><i></i><span class=n>{<br>[</span></div>
<div class="k red2 sm" style="left:1971.2px;top:1579.9px;width:40.1px;height:39.8px"><i></i><span class=n>}<br>]</span></div>
<div class="k red2 sm" style="left:2013.6px;top:1579.9px;width:61.3px;height:39.8px"><i></i><span class=n>¦<br>\</span></div>
<div class="k red2" style="left:2098.6px;top:1579.9px;width:40.1px;height:39.8px"><i></i><span class=m>Delete</span></div>
<div class="k red2" style="left:2141.1px;top:1579.9px;width:40.1px;height:39.8px"><i></i><span class=m>End</span></div>
<div class="k red2" style="left:2183.5px;top:1579.9px;width:40.1px;height:39.8px"><i></i><span class=m>Page<br>Down</span></div>
<div class="k red2" style="left:2247.2px;top:1579.9px;width:40.1px;height:39.8px"><i></i><b class=p>7<br><em>Home</em></b></div>
<div class="k red2" style="left:2289.7px;top:1579.9px;width:40.1px;height:39.8px"><i></i><b class=p>8<br><em class=pa>↑</em></b></div>
<div class="k red2" style="left:2332.2px;top:1579.9px;width:40.1px;height:39.8px"><i></i><b class=p>9<br><em>PgUp</em></b></div>
<div class="k red2 tall" style="left:2374.6px;top:1579.9px;width:40.1px;height:82.1px"><i></i><b class=c>+</b></div>
<div class="k pr" style="left:1440.3px;top:1622.2px;width:71.9px;height:39.8px"><i></i><span class=m>Caps Lock</span></div>
<div class="k pr" style="left:1514.6px;top:1622.2px;width:40.1px;height:39.8px"><i></i><b class=a>A</b></div>
<div class="k pr" style="left:1557.1px;top:1622.2px;width:40.1px;height:39.8px"><i></i><b class=a>S</b></div>
<div class="k pr" style="left:1599.6px;top:1622.2px;width:40.1px;height:39.8px"><i></i><b class=a>D</b></div>
<div class="k pr" style="left:1642px;top:1622.2px;width:40.1px;height:39.8px"><i></i><b class=a>F</b></div>
<div class="k pr" style="left:1684.5px;top:1622.2px;width:40.1px;height:39.8px"><i></i><b class=a>G</b></div>
<div class="k pr" style="left:1727px;top:1622.2px;width:40.1px;height:39.8px"><i></i><b class=a>H</b></div>
<div class="k pr" style="left:1769.4px;top:1622.2px;width:40.1px;height:39.8px"><i></i><b class=a>J</b></div>
<div class="k pr" style="left:1811.9px;top:1622.2px;width:40.1px;height:39.8px"><i></i><b class=a>K</b></div>
<div class="k pr" style="left:1854.4px;top:1622.2px;width:40.1px;height:39.8px"><i></i><b class=a>L</b></div>
<div class="k pr sm" style="left:1896.9px;top:1622.2px;width:40.1px;height:39.8px"><i></i><span class=n>:<br>;</span></div>
<div class="k pr sm" style="left:1939.3px;top:1622.2px;width:40.1px;height:39.8px"><i></i><span class=n>"<br>,</span></div>
<div class="k pr" style="left:1981.8px;top:1622.2px;width:93.2px;height:39.8px"><i></i><span class=m><span class=sy>&#8629;</span> Enter</span></div>
<div class="k pr" style="left:2247.2px;top:1622.2px;width:40.1px;height:39.8px"><i></i><b class=p>4<br><em class=pa>←</em></b></div>
<div class="k pr" style="left:2289.7px;top:1622.2px;width:40.1px;height:39.8px"><i></i><b class=p>5<br><em></em></b></div>
<div class="k pr" style="left:2332.2px;top:1622.2px;width:40.1px;height:39.8px"><i></i><b class=p>6<br><em class=pa>→</em></b></div>
<div class="k pink" style="left:1440.3px;top:1664.8px;width:93.2px;height:39.8px"><i></i><span class=m><span class="sy s2">&#8679;</span> Shift</span></div>
<div class="k pink" style="left:1535.9px;top:1664.8px;width:40.1px;height:39.8px"><i></i><b class=a>Z</b></div>
<div class="k pink" style="left:1578.3px;top:1664.8px;width:40.1px;height:39.8px"><i></i><b class=a>X</b></div>
<div class="k pink" style="left:1620.8px;top:1664.8px;width:40.1px;height:39.8px"><i></i><b class=a>C</b></div>
<div class="k pink" style="left:1663.3px;top:1664.8px;width:40.1px;height:39.8px"><i></i><b class=a>V</b></div>
<div class="k pink" style="left:1705.7px;top:1664.8px;width:40.1px;height:39.8px"><i></i><b class=a>B</b></div>
<div class="k pink" style="left:1748.2px;top:1664.8px;width:40.1px;height:39.8px"><i></i><b class=a>N</b></div>
<div class="k pink" style="left:1790.7px;top:1664.8px;width:40.1px;height:39.8px"><i></i><b class=a>M</b></div>
<div class="k pink sm" style="left:1833.1px;top:1664.8px;width:40.1px;height:39.8px"><i></i><span class=n>&lt;<br>,</span></div>
<div class="k pink sm" style="left:1875.6px;top:1664.8px;width:40.1px;height:39.8px"><i></i><span class=n>&gt;<br>.</span></div>
<div class="k pink sm" style="left:1918.1px;top:1664.8px;width:40.1px;height:39.8px"><i></i><span class=n>?<br>/</span></div>
<div class="k pink" style="left:1960.6px;top:1664.8px;width:114.4px;height:39.8px"><i></i><span class=m><span class="sy s2">&#8679;</span> Shift</span></div>
<div class="k pink" style="left:2141.1px;top:1664.8px;width:40.1px;height:39.8px"><i></i><b class=ar>↑</b></div>
<div class="k pink" style="left:2247.2px;top:1664.8px;width:40.1px;height:39.8px"><i></i><b class=p>1<br><em>End</em></b></div>
<div class="k pink" style="left:2289.7px;top:1664.8px;width:40.1px;height:39.8px"><i></i><b class=p>2<br><em class=pa>↓</em></b></div>
<div class="k pink" style="left:2332.2px;top:1664.8px;width:40.1px;height:39.8px"><i></i><b class=p>3<br><em>PgDn</em></b></div>
<div class="k lpink tall" style="left:2374.6px;top:1664.8px;width:40.1px;height:82.2px"><i></i><span class=ve>Enter</span></div>
<div class="k lpink" style="left:1440.3px;top:1707.2px;width:50.7px;height:39.8px"><i></i><span class=m>Ctrl</span></div>
<div class="k lpink" style="left:1493.4px;top:1707.2px;width:50.7px;height:39.8px"><i></i><span class="m w">Win</span></div>
<div class="k lpink" style="left:1546.5px;top:1707.2px;width:50.7px;height:39.8px"><i></i><span class=m>Alt</span></div>
<div class="k lpink" style="left:1599.6px;top:1707.2px;width:263px;height:39.8px"><i></i></div>
<div class="k lpink" style="left:1865px;top:1707.2px;width:50.7px;height:39.8px"><i></i><span class=m>Alt</span></div>
<div class="k lpink" style="left:1918.1px;top:1707.2px;width:50.7px;height:39.8px"><i></i><span class="m w">Win</span></div>
<div class="k lpink" style="left:1971.2px;top:1707.2px;width:50.7px;height:39.8px"><i></i><span class="m w">Menu</span></div>
<div class="k lpink" style="left:2024.3px;top:1707.2px;width:50.7px;height:39.8px"><i></i><span class=m>Ctrl</span></div>
<div class="k lpink" style="left:2098.6px;top:1707.2px;width:40.1px;height:39.8px"><i></i><b class=ar>←</b></div>
<div class="k lpink" style="left:2141.1px;top:1707.2px;width:40.1px;height:39.8px"><i></i><b class=ar>↓</b></div>
<div class="k lpink" style="left:2183.5px;top:1707.2px;width:40.1px;height:39.8px"><i></i><b class=ar>→</b></div>
<div class="k lpink" style="left:2247.2px;top:1707.2px;width:82.5px;height:39.8px"><i></i><b class=p>0<br><em>Ins</em></b></div>
<div class="k lpink" style="left:2332.2px;top:1707.2px;width:40.1px;height:39.8px"><i></i><b class=p>·<br><em>Del</em></b></div>
<span class=rl style="left:1402.5px;top:1786.1px;font-size:18px">R4</span>
<span class=rl style="left:1402.5px;top:1850.9px;font-size:18px">R4</span>
<span class=rl style="left:1402.5px;top:1896.6px;font-size:18px">R3</span>
<span class=rl style="left:1402.5px;top:1938.2px;font-size:18px">R2</span>
<span class=rl style="left:1402.5px;top:1983.9px;font-size:18px">R1</span>
<span class=rl style="left:1402.5px;top:2027.7px;font-size:18px">R0</span>
<span class=rl style="left:1402.5px;top:2068.4px;font-size:18px">R0</span>
<div class="k crim" style="left:1439.8px;top:1775.6px;width:40px;height:40.3px"><i></i></div>
<div class="k crim" style="left:1482.5px;top:1775.6px;width:40px;height:40.3px"><i></i></div>
<div class="k crim" style="left:1525.1px;top:1775.6px;width:40px;height:40.3px"><i></i></div>
<div class="k crim" style="left:1567.8px;top:1775.6px;width:40px;height:40.3px"><i></i></div>
<div class="k lpink" style="left:1610.4px;top:1775.6px;width:40px;height:40.3px"><i></i><svg class=ic viewBox="0 0 30 30"><g fill="none" stroke="#222" stroke-width="1.5"><ellipse cx="15" cy="11.5" rx="10" ry="5.5"/><path d="M5 14.5c0 3 5 4 10 4s10-1 10-4M5 17.5c0 4 5 6 10 6s10-2 10-6M5 11.5v6M25 11.5v6"/></g></svg></div>
<div class="k lpink" style="left:1653px;top:1775.6px;width:40px;height:40.3px"><i></i><svg class=ic viewBox="0 0 30 30"><g fill="none" stroke="#222" stroke-width="1.3"><path d="M9 11c-3 4-1 10 8 15 7-4 8-11 5-15"/><path d="M7 9l5 1 1-6 4 5 6-2-3 5-5 0-4 2-1-4z"/><path d="M12 16v1M16 15v1M19 17v1M14 20v1M17 21v1" stroke-width="1.6"/></g></svg></div>
<div class="k red sm" style="left:1439.8px;top:1841.4px;width:40px;height:40.3px"><i></i><span class=n>¦<br>\</span></div>
<div class="k red" style="left:1482.5px;top:1841.4px;width:40px;height:40.3px"><i></i><span class=m>Delete</span></div>
<div class="k red" style="left:1525.1px;top:1841.4px;width:40px;height:40.3px"><i></i><span class=m>End</span></div>
<div class="k red" style="left:1567.8px;top:1841.4px;width:40px;height:40.3px"><i></i><span class=m>Page<br>Down</span></div>
<div class="k red" style="left:1610.4px;top:1841.4px;width:40px;height:40.3px"><i></i><span class="m w">Fn</span></div>
<div class="k red" style="left:1653px;top:1841.4px;width:40px;height:40.3px"><i></i><b class=ar>←</b></div>
<div class="k red2" style="left:1439.8px;top:1885.7px;width:61.4px;height:40.3px"><i></i><span class=m>Backspace</span><span class=z>1.5U</span></div>
<div class="k red2" style="left:1503.8px;top:1885.7px;width:40px;height:40.3px"><i></i><span class=m>Page<br>Up</span></div>
<div class="k red2 lc" style="left:1546.4px;top:1885.7px;width:40px;height:40.3px"><i></i><b class=c>−</b></div>
<div class="k pr st" style="left:1439.8px;top:1929.1px;width:73.3px;height:40.3px"><i></i><span class=m>Caps Lock</span><span class=z>3800</span></div>
<div class="k pr st" style="left:1515.7px;top:1929.1px;width:73.3px;height:40.3px"><i></i><span class=m>Caps Lock</span><span class=z>3000</span></div>
<div class="k pr" style="left:1591.6px;top:1929.1px;width:73.3px;height:40.3px"><i></i><span class=m>Control</span><span class=z>1.75U</span></div>
<div class="k pr" style="left:1667.6px;top:1929.1px;width:40px;height:40.3px"><i></i><span class=m>Page<br>Up</span></div>
<div class="k pr" style="left:1710.2px;top:1929.1px;width:40px;height:40.3px"><i></i><span class=m>Page<br>Down</span></div>
<div class="k pr lc" style="left:1752.9px;top:1929.1px;width:40px;height:40.3px"><i></i><b class=c>+</b></div>
<div class="k pink" style="left:1439.8px;top:1972.9px;width:73.3px;height:40.3px"><i></i><span class=m><span class="sy s2">&#8679;</span> Shift</span><span class=z>1.75U</span></div>
<div class="k pink" style="left:1515.7px;top:1972.9px;width:83.6px;height:40.3px"><i></i><span class=m><span class="sy s2">&#8679;</span> Shift</span><span class=z>2U</span></div>
<div class="k pink" style="left:1601.9px;top:1972.9px;width:40px;height:40.3px"><i></i><span class=m>End</span></div>
<div class="k pink" style="left:1644.5px;top:1972.9px;width:40px;height:40.3px"><i></i><span class=m>Page<br>Down</span></div>
<div class="k lpink" style="left:1439.8px;top:2016.8px;width:61.4px;height:40.3px"><i></i><span class=m>Ctrl</span><span class=z>1.5U</span></div>
<div class="k lpink" style="left:1503.8px;top:2016.8px;width:61.4px;height:40.3px"><i></i><span class=m>Ctrl</span><span class=z>1.5U</span></div>
<div class="k lpink" style="left:1567.8px;top:2016.8px;width:61.4px;height:40.3px"><i></i><span class=m>Alt</span><span class=z>1.5U</span></div>
<div class="k lpink" style="left:1631.7px;top:2016.8px;width:61.4px;height:40.3px"><i></i><span class=m>Alt</span><span class=z>1.5U</span></div>
<div class="k lpink" style="left:1695.7px;top:2016.8px;width:40px;height:40.3px"><i></i><span class=m>Ctrl</span></div>
<div class="k lpink" style="left:1738.3px;top:2016.8px;width:40px;height:40.3px"><i></i><span class=m>Alt</span></div>
<div class="k lpink" style="left:1781px;top:2016.8px;width:40px;height:40.3px"><i></i><span class="m w">Win</span></div>
<div class="k lpink" style="left:1823.6px;top:2016.8px;width:40px;height:40.3px"><i></i><span class="m w">Menu</span></div>
<div class="k lpink" style="left:1866.3px;top:2016.8px;width:40px;height:40.3px"><i></i><span class="m w">Fn</span></div>
<div class="k lpink" style="left:1908.9px;top:2016.8px;width:40px;height:40.3px"><i></i><b class=p>0<br><em>Ins</em></b></div>
<div class="k lpink" style="left:1951.6px;top:2016.8px;width:50.7px;height:40.3px"><i></i><span class="m w">Fn</span><span class=z>1.25U</span></div>
<div class="k lpink" style="left:2004.9px;top:2016.8px;width:40px;height:40.3px"><i></i></div>
<div class="k lpink" style="left:2047.6px;top:2016.8px;width:40px;height:40.3px"><i></i></div>
<div class="k lpink" style="left:2090.2px;top:2016.8px;width:40px;height:40.3px"><i></i></div>
<div class="k lpink" style="left:2132.9px;top:2016.8px;width:40px;height:40.3px"><i></i></div>
<div class="k lpink" style="left:1439.8px;top:2060.2px;width:244.8px;height:40.3px"><i></i><span class=z>6U</span></div>
<div class="k lpink" style="left:1687.5px;top:2060.2px;width:287.4px;height:40.3px"><i></i><span class=z>7U</span></div>
<div class="k red sm i1" style="left:1950.6px;top:1774.2px;width:40.3px;height:40.3px"><i></i><span class=n>¬<br>`</span></div>
<div class="k red nbd" style="left:1993.2px;top:1774.2px;width:40.3px;height:40.3px"><i></i><span class=n>"<br>2</span></div>
<div class="k red nbd" style="left:2035.8px;top:1774.2px;width:40.3px;height:40.3px"><i></i><span class=n>£<br>3</span></div>
<div class="k pr" style="left:2081.2px;top:1814px;width:61.7px;height:39.2px"></div>
<div class="k pr" style="left:2091.7px;top:1814px;width:51.2px;height:83px"></div>
<div class="kf pr" style="left:2087.2px;top:1816px;width:50.7px;height:31.2px"></div>
<div class="kf pr" style="left:2097.7px;top:1816px;width:40.2px;height:74px"><b class=ent>&#8629;</b></div>
<div class="k pr nbd" style="left:1992.6px;top:1858.7px;width:40.2px;height:39.8px"><i></i><span class=n>@<br>'</span></div>
<div class="k pr nbd" style="left:2035.6px;top:1858.7px;width:40.2px;height:39.8px"><i></i><span class=n>~<br>#</span></div>
<div class="k pink" style="left:1982px;top:1903px;width:51.3px;height:39.8px"><i></i><span class=m><span class="sy s2">&#8679;</span> Shift</span><span class=z>1.25U</span></div>
<div class="k pink sm" style="left:2036px;top:1903px;width:39.8px;height:39.8px"><i></i><span class=n>¦<br>\</span></div>
<span class=rl style="left:1917.7px;top:1786.1px;font-size:18px">R4</span>
<span class=rl style="left:1917.7px;top:1830.3px;font-size:18px">R3</span>
<span class=rl style="left:1917.7px;top:1874.3px;font-size:18px">R2</span>
<span class=rl style="left:1917.7px;top:1918.1px;font-size:18px">R1</span>
<div class=tt style="left:588px;top:274.2px;font-size:86.5px;letter-spacing:3.92px;color:#FF8097;-webkit-text-stroke:4px #FF8097;text-shadow:1.3px -1.7px #FF8097,1.3px 0px #FF8097,1.3px 1.7px #FF8097,-1.3px -1.7px #FF8097,-1.3px 0px #FF8097,-1.3px 1.7px #FF8097,2.7px -1.7px #FF8097,2.7px 0px #FF8097,2.7px 1.7px #FF8097,-2.7px -1.7px #FF8097,-2.7px 0px #FF8097,-2.7px 1.7px #FF8097,4px -1.7px #FF8097,4px 0px #FF8097,4px 1.7px #FF8097,-4px -1.7px #FF8097,-4px 0px #FF8097,-4px 1.7px #FF8097;transform:scaleX(0.8400)">Macaron</div>
<div class=tt style="left:1716.6px;top:233.3px;font-size:102.5px;letter-spacing:0.96px;color:#5F66BB;-webkit-text-stroke:4px #5F66BB;text-shadow:1.3px -1.7px #5F66BB,1.3px 0px #5F66BB,1.3px 1.7px #5F66BB,-1.3px -1.7px #5F66BB,-1.3px 0px #5F66BB,-1.3px 1.7px #5F66BB,2.7px -1.7px #5F66BB,2.7px 0px #5F66BB,2.7px 1.7px #5F66BB,-2.7px -1.7px #5F66BB,-2.7px 0px #5F66BB,-2.7px 1.7px #5F66BB,4px -1.7px #5F66BB,4px 0px #5F66BB,4px 1.7px #5F66BB,-4px -1.7px #5F66BB,-4px 0px #5F66BB,-4px 1.7px #5F66BB;transform:scaleX(0.8400)">Lollipop</div>
<div class=tt style="left:584px;top:1334.4px;font-size:97.1px;letter-spacing:2.28px;color:#22178D;-webkit-text-stroke:4px #22178D;text-shadow:1.3px -1.7px #22178D,1.3px 0px #22178D,1.3px 1.7px #22178D,-1.3px -1.7px #22178D,-1.3px 0px #22178D,-1.3px 1.7px #22178D,2.7px -1.7px #22178D,2.7px 0px #22178D,2.7px 1.7px #22178D,-2.7px -1.7px #22178D,-2.7px 0px #22178D,-2.7px 1.7px #22178D,4px -1.7px #22178D,4px 0px #22178D,4px 1.7px #22178D,-4px -1.7px #22178D,-4px 0px #22178D,-4px 1.7px #22178D;transform:scaleX(0.8400)">Blueberry</div>
<div class=tt style="left:1634px;top:1333px;font-size:101px;letter-spacing:1.59px;color:#FF8099;-webkit-text-stroke:4px #FF8099;text-shadow:1.3px -1.7px #FF8099,1.3px 0px #FF8099,1.3px 1.7px #FF8099,-1.3px -1.7px #FF8099,-1.3px 0px #FF8099,-1.3px 1.7px #FF8099,2.7px -1.7px #FF8099,2.7px 0px #FF8099,2.7px 1.7px #FF8099,-2.7px -1.7px #FF8099,-2.7px 0px #FF8099,-2.7px 1.7px #FF8099,4px -1.7px #FF8099,4px 0px #FF8099,4px 1.7px #FF8099,-4px -1.7px #FF8099,-4px 0px #FF8099,-4px 1.7px #FF8099;transform:scaleX(0.8400)">Strawberry</div>
<div class=ct style="left:1032.5px;top:974.8px;font-size:73.3px;line-height:normal;letter-spacing:12.33px;color:#EF9DB4;transform:scaleX(0.5800);text-shadow:1.39px 0 #EF9DB4,-1.39px 0 #EF9DB4,0.70px 0 #EF9DB4,-0.70px 0 #EF9DB4;">156KEYS</div>
<div class=ct style="left:992px;top:1061.2px;font-size:46.5px;line-height:normal;letter-spacing:9.62px;color:#EF9DB4;transform:scaleX(0.5800);text-shadow:0.42px 0 #EF9DB4,-0.42px 0 #EF9DB4,0.21px 0 #EF9DB4,-0.21px 0 #EF9DB4;">SKU#T01PK602</div>
<div class=ct style="left:2214.7px;top:974.8px;font-size:73.3px;line-height:normal;letter-spacing:12.10px;color:#A98BC3;transform:scaleX(0.5800);text-shadow:1.39px 0 #A98BC3,-1.39px 0 #A98BC3,0.70px 0 #A98BC3,-0.70px 0 #A98BC3;">156KEYS</div>
<div class=ct style="left:2182.8px;top:1061.2px;font-size:46.5px;line-height:normal;letter-spacing:9.58px;color:#A98BC3;transform:scaleX(0.5800);text-shadow:0.42px 0 #A98BC3,-0.42px 0 #A98BC3,0.21px 0 #A98BC3,-0.21px 0 #A98BC3;">SKU#T01PP602</div>
<div class=ct style="left:254px;top:2153.2px;font-size:48px;line-height:normal;letter-spacing:8.83px;color:#A51C3A;transform:scaleX(0.5800);text-shadow:0.43px 0 #A51C3A,-0.43px 0 #A51C3A,0.22px 0 #A51C3A,-0.22px 0 #A51C3A;">TOTAL KEY COUNT: 308 KEYS -</div>
<div class=ct style="left:254px;top:2214.6px;font-size:48px;line-height:normal;letter-spacing:8.43px;color:#A51C3A;transform:scaleX(0.5800);text-shadow:0.43px 0 #A51C3A,-0.43px 0 #A51C3A,0.22px 0 #A51C3A,-0.22px 0 #A51C3A;">DUAL COLORWAY 152*2 PLUS 4 LASER ETCHED NOVELTY KEYCAPS</div>
<div class=ct style="left:254px;top:2273.6px;font-size:48px;line-height:normal;letter-spacing:8.37px;color:#A51C3A;transform:scaleX(0.5800);text-shadow:0.43px 0 #A51C3A,-0.43px 0 #A51C3A,0.22px 0 #A51C3A,-0.22px 0 #A51C3A;">*COLOR: 6-TONE STRAWBERRY &amp; 6-TONE BLUEBERRY</div>
<div class=ct style="left:2183.7px;top:2158.8px;font-size:67.3px;line-height:normal;letter-spacing:15.88px;color:#A51E38;transform:scaleX(0.5800);text-shadow:1.28px 0 #A51E38,-1.28px 0 #A51E38,0.64px 0 #A51E38,-0.64px 0 #A51E38;">308KEYS</div>
<div class=ct style="left:1920.9px;top:2249.4px;font-size:70.5px;line-height:normal;letter-spacing:14.85px;color:#A51E38;transform:scaleX(0.5800);text-shadow:1.34px 0 #A51E38,-1.34px 0 #A51E38,0.67px 0 #A51E38,-0.67px 0 #A51E38;">SKU#208T01PP621</div>
<div class=ct style="left:463.4px;top:2380.6px;font-size:84.9px;line-height:normal;letter-spacing:12.46px;color:#FF0022;transform:scaleX(0.5800);text-shadow:1.61px 0 #FF0022,-1.61px 0 #FF0022,0.81px 0 #FF0022,-0.81px 0 #FF0022;">GET TWO <span class=pr>(</span>BLUEBERRY &amp; STRAWBERRY<span class=pr>)</span> FOR PRICE OF ONE</div>
<svg class=ti style="left:408.3px;top:265.0px;overflow:hidden" width="146.5" height="107" viewBox="18.3 15 146.5 107"><g fill="none" stroke="#E8405E" stroke-width="5" stroke-linecap="round" stroke-linejoin="round"><path d="M22 59 C12 30 50 17.5 86 17.5 C125 17 152 32 151 52 C151 56 150 58 150 60"/><path d="M22.0 59.0 L24.1 60.4 L26.3 61.8 L28.4 63.0 L30.5 63.8 L32.7 64.0 L34.8 63.7 L36.9 63.1 L39.1 63.1 L41.2 63.8 L43.3 65.2 L45.5 67.0 L47.6 68.9 L49.7 70.3 L51.9 71.1 L54.0 71.0 L56.1 70.4 L58.3 69.5 L60.4 68.6 L62.5 68.3 L64.7 68.6 L66.8 69.7 L68.9 71.2 L71.1 72.7 L73.2 73.9 L75.3 74.5 L77.5 74.2 L79.6 73.3 L81.7 72.1 L83.9 70.9 L86.0 70.2 L88.1 70.2 L90.3 70.8 L92.4 72.0 L94.5 73.2 L96.7 74.2 L98.8 74.5 L100.9 74.0 L103.1 72.9 L105.2 71.4 L107.3 69.8 L109.5 68.7 L111.6 68.3 L113.7 68.6 L115.9 69.4 L118.0 70.3 L120.1 71.0 L122.3 71.1 L124.4 70.5 L126.5 69.1 L128.7 67.3 L130.8 65.5 L132.9 64.0 L135.1 63.3 L137.2 63.4 L139.3 63.8 L141.5 64.0 L143.6 63.6 L145.7 62.8 L147.9 61.5 L150.0 60.0"/><path d="M22.0 85.0 L24.1 86.4 L26.2 87.7 L28.3 88.9 L30.4 89.7 L32.5 89.9 L34.6 89.6 L36.7 89.0 L38.8 89.0 L40.9 89.7 L43.0 91.1 L45.1 92.8 L47.2 94.7 L49.3 96.1 L51.4 96.8 L53.5 96.8 L55.6 96.1 L57.7 95.2 L59.8 94.3 L61.9 94.0 L64.0 94.3 L66.1 95.3 L68.2 96.8 L70.3 98.3 L72.4 99.5 L74.5 100.0 L76.6 99.8 L78.7 98.9 L80.8 97.6 L82.9 96.5 L85.0 95.7 L87.1 95.7 L89.2 96.3 L91.3 97.4 L93.4 98.7 L95.5 99.6 L97.6 99.9 L99.7 99.4 L101.8 98.2 L103.9 96.7 L106.0 95.2 L108.1 94.1 L110.2 93.6 L112.3 93.9 L114.4 94.7 L116.5 95.6 L118.6 96.3 L120.7 96.4 L122.8 95.7 L124.9 94.3 L127.0 92.5 L129.1 90.6 L131.2 89.2 L133.3 88.4 L135.4 88.5 L137.5 88.9 L139.6 89.0 L141.7 88.7 L143.8 87.8 L145.9 86.5 L148.0 85.0"/><path d="M22 59 C17 66 17 78 22 85"/><path d="M22 85 C17 90 18 96 21 98 C30 112 55 119.5 90 119.5 C120 119.5 143 108 148 86"/><path d="M120 15.5 C150 20 166 45 164.5 62 C164 92 150 112 122 121.5 C140 110 150 96 149 84 C153 76 153 66 150 60 C153 40 142 24 120 15.5 Z" fill="#E8405E" stroke-width="2"/></g></svg>
<svg class=ti style="left:930.1px;top:265.0px;overflow:hidden" width="146.5" height="107" viewBox="18.3 15 146.5 107"><g fill="none" stroke="#E8405E" stroke-width="5" stroke-linecap="round" stroke-linejoin="round"><path d="M22 59 C12 30 50 17.5 86 17.5 C125 17 152 32 151 52 C151 56 150 58 150 60"/><path d="M22.0 59.0 L24.1 60.4 L26.3 61.8 L28.4 63.0 L30.5 63.8 L32.7 64.0 L34.8 63.7 L36.9 63.1 L39.1 63.1 L41.2 63.8 L43.3 65.2 L45.5 67.0 L47.6 68.9 L49.7 70.3 L51.9 71.1 L54.0 71.0 L56.1 70.4 L58.3 69.5 L60.4 68.6 L62.5 68.3 L64.7 68.6 L66.8 69.7 L68.9 71.2 L71.1 72.7 L73.2 73.9 L75.3 74.5 L77.5 74.2 L79.6 73.3 L81.7 72.1 L83.9 70.9 L86.0 70.2 L88.1 70.2 L90.3 70.8 L92.4 72.0 L94.5 73.2 L96.7 74.2 L98.8 74.5 L100.9 74.0 L103.1 72.9 L105.2 71.4 L107.3 69.8 L109.5 68.7 L111.6 68.3 L113.7 68.6 L115.9 69.4 L118.0 70.3 L120.1 71.0 L122.3 71.1 L124.4 70.5 L126.5 69.1 L128.7 67.3 L130.8 65.5 L132.9 64.0 L135.1 63.3 L137.2 63.4 L139.3 63.8 L141.5 64.0 L143.6 63.6 L145.7 62.8 L147.9 61.5 L150.0 60.0"/><path d="M22.0 85.0 L24.1 86.4 L26.2 87.7 L28.3 88.9 L30.4 89.7 L32.5 89.9 L34.6 89.6 L36.7 89.0 L38.8 89.0 L40.9 89.7 L43.0 91.1 L45.1 92.8 L47.2 94.7 L49.3 96.1 L51.4 96.8 L53.5 96.8 L55.6 96.1 L57.7 95.2 L59.8 94.3 L61.9 94.0 L64.0 94.3 L66.1 95.3 L68.2 96.8 L70.3 98.3 L72.4 99.5 L74.5 100.0 L76.6 99.8 L78.7 98.9 L80.8 97.6 L82.9 96.5 L85.0 95.7 L87.1 95.7 L89.2 96.3 L91.3 97.4 L93.4 98.7 L95.5 99.6 L97.6 99.9 L99.7 99.4 L101.8 98.2 L103.9 96.7 L106.0 95.2 L108.1 94.1 L110.2 93.6 L112.3 93.9 L114.4 94.7 L116.5 95.6 L118.6 96.3 L120.7 96.4 L122.8 95.7 L124.9 94.3 L127.0 92.5 L129.1 90.6 L131.2 89.2 L133.3 88.4 L135.4 88.5 L137.5 88.9 L139.6 89.0 L141.7 88.7 L143.8 87.8 L145.9 86.5 L148.0 85.0"/><path d="M22 59 C17 66 17 78 22 85"/><path d="M22 85 C17 90 18 96 21 98 C30 112 55 119.5 90 119.5 C120 119.5 143 108 148 86"/><path d="M120 15.5 C150 20 166 45 164.5 62 C164 92 150 112 122 121.5 C140 110 150 96 149 84 C153 76 153 66 150 60 C153 40 142 24 120 15.5 Z" fill="#E8405E" stroke-width="2"/></g></svg>
<svg class=ti style="left:1480.0px;top:210.0px" width="240" height="180" viewBox="0 0 240 180"><g fill="none" stroke="#5F63C2" stroke-width="4.6" stroke-linecap="round" stroke-linejoin="round"><path d="M62 29 C40 33 27 52 27 73 C27 88 33 100 42 110 C58 120 84 117 100 103 C113 91 118 72 112 56 C108 44 104 36 100 32 C92 26 76 26 62 29 Z"/><path d="M88 28 C92 52 78 84 54 102"/><path d="M104 38 C108 62 94 94 72 112"/><path d="M86 27 L100 31 C104 34 106 38 106 42" /><path d="M36 100 C44 106 54 104 60 100 L72 112 C62 120 48 121 40 114 Z" fill="#5F63C2" stroke-width="3"/><path d="M111 94 L209 152 L205 159 L106 103" stroke-width="3.6"/></g></svg>
<svg class=ti style="left:2074.5px;top:220.3px" width="240" height="180" viewBox="0 0 240 180"><g fill="none" stroke="#5F63C2" stroke-width="4.6" stroke-linecap="round" stroke-linejoin="round"><path d="M62 29 C40 33 27 52 27 73 C27 88 33 100 42 110 C58 120 84 117 100 103 C113 91 118 72 112 56 C108 44 104 36 100 32 C92 26 76 26 62 29 Z"/><path d="M88 28 C92 52 78 84 54 102"/><path d="M104 38 C108 62 94 94 72 112"/><path d="M86 27 L100 31 C104 34 106 38 106 42" /><path d="M36 100 C44 106 54 104 60 100 L72 112 C62 120 48 121 40 114 Z" fill="#5F63C2" stroke-width="3"/><path d="M111 94 L209 152 L205 159 L106 103" stroke-width="3.6"/></g></svg>
<svg class=ti style="left:380.0px;top:1280.0px" width="180" height="180" viewBox="0 0 180 180"><g fill="none" stroke="#4A48B4" stroke-width="3.1" stroke-linecap="round" stroke-linejoin="round"><circle cx="58.5" cy="115.5" r="39"/><path d="M81 83 C88 62 112 52 131 62 C147 71 151 88 145 103"/><path d="M97 122 C104 100 132 92 149 108 C163 122 160 148 144 160 C126 172 100 166 91 146"/><path d="M68 77 C58 68 54 52 57 42 C70 47 80 60 82 72 M60 48 C64 58 70 66 76 74"/><path d="M86 60 C88 44 98 30 113 23 C120 36 120 50 114 56 M110 30 C104 40 98 50 92 60"/><path d="M52 93 L50 103 L60 104 L52 111 L46 123 L43 112 L32 107 L42 102 L46 92 Z" transform="rotate(10 46 107)"/><path d="M131 129 L132 139 L142 143 L133 149 L130 160 L124 151 L113 152 L120 143 L117 133 L126 137 Z"/></g></svg>
<svg class=ti style="left:2100.0px;top:1290.0px" width="170" height="160" viewBox="0 0 170 160"><g fill="none" stroke="#E8405E" stroke-width="3.1" stroke-linecap="round" stroke-linejoin="round"><path d="M47 78 C42 92 48 106 60 116 C80 132 110 146 134 144 C142 130 146 100 142 78 C140 66 138 58 134 52"/><path d="M76 60 C84 40 92 22 99 6 C104 16 106 28 104 40 C116 36 130 38 141 46 C134 54 122 58 108 58 C114 64 118 72 118 80 C106 80 94 74 88 64 C84 76 76 88 64 96 C58 86 58 74 64 62 C54 64 40 62 22 56 C32 48 46 46 58 50 C56 44 52 38 48 34 C58 38 68 48 76 60 Z"/><path d="M128 70 l2 5" stroke-width="3"/><path d="M136 88 l2 5" stroke-width="3"/><path d="M120 92 l2 5" stroke-width="3"/><path d="M104 98 l2 5" stroke-width="3"/><path d="M88 92 l2 5" stroke-width="3"/><path d="M76 104 l2 5" stroke-width="3"/><path d="M96 116 l2 5" stroke-width="3"/><path d="M112 112 l2 5" stroke-width="3"/><path d="M128 108 l2 5" stroke-width="3"/><path d="M137 120 l2 5" stroke-width="3"/><path d="M122 128 l2 5" stroke-width="3"/><path d="M106 130 l2 5" stroke-width="3"/><path d="M88 118 l2 5" stroke-width="3"/></g></svg>
</body></html>
